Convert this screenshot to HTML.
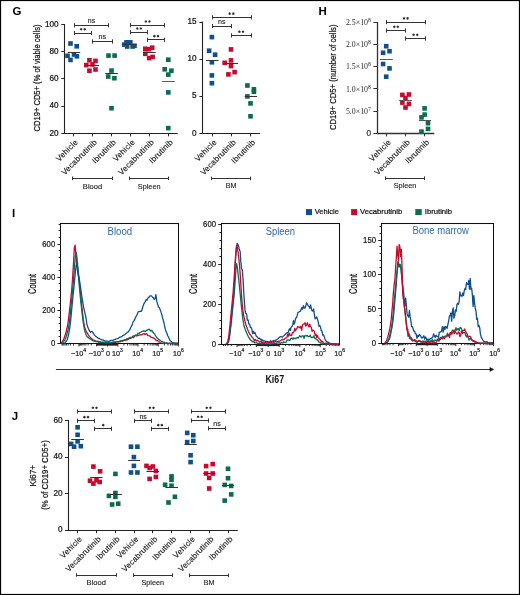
<!DOCTYPE html>
<html><head><meta charset="utf-8"><style>
html,body{margin:0;padding:0;background:#fff;}
body{width:520px;height:595px;overflow:hidden;font-family:"Liberation Sans",sans-serif;}
svg{display:block;will-change:transform;}
</style></head><body>
<svg width="520" height="595" viewBox="0 0 520 595">
<rect x="0" y="0" width="520" height="595" fill="#fff"/>
<text x="12.6" y="15.3" font-size="11.5" text-anchor="start" fill="#000" font-weight="bold" font-family="Liberation Sans" >G</text>
<text x="318.4" y="15.3" font-size="11.5" text-anchor="start" fill="#000" font-weight="bold" font-family="Liberation Sans" >H</text>
<text x="12" y="217.3" font-size="11.5" text-anchor="start" fill="#000" font-weight="bold" font-family="Liberation Sans" >I</text>
<text x="11.8" y="419.9" font-size="11.5" text-anchor="start" fill="#000" font-weight="bold" font-family="Liberation Sans" >J</text>
<line x1="64.5" y1="24" x2="64.5" y2="133.9" stroke="#222" stroke-width="1.1"/>
<line x1="64" y1="133.5" x2="177.7" y2="133.5" stroke="#222" stroke-width="1.1"/>
<line x1="61.3" y1="24.5" x2="64.5" y2="24.5" stroke="#222" stroke-width="1"/>
<text stroke="#111" stroke-width="0.22" x="58.6" y="26.5" font-size="8.2" text-anchor="end" fill="#111" font-weight="normal" font-family="Liberation Sans" >100</text>
<line x1="61.3" y1="51.5" x2="64.5" y2="51.5" stroke="#222" stroke-width="1"/>
<text stroke="#111" stroke-width="0.22" x="58.6" y="53.75" font-size="8.2" text-anchor="end" fill="#111" font-weight="normal" font-family="Liberation Sans" >80</text>
<line x1="61.3" y1="78.5" x2="64.5" y2="78.5" stroke="#222" stroke-width="1"/>
<text stroke="#111" stroke-width="0.22" x="58.6" y="81" font-size="8.2" text-anchor="end" fill="#111" font-weight="normal" font-family="Liberation Sans" >60</text>
<line x1="61.3" y1="106.5" x2="64.5" y2="106.5" stroke="#222" stroke-width="1"/>
<text stroke="#111" stroke-width="0.22" x="58.6" y="108.25" font-size="8.2" text-anchor="end" fill="#111" font-weight="normal" font-family="Liberation Sans" >40</text>
<line x1="61.3" y1="133.5" x2="64.5" y2="133.5" stroke="#222" stroke-width="1"/>
<text stroke="#111" stroke-width="0.22" x="58.6" y="135.5" font-size="8.2" text-anchor="end" fill="#111" font-weight="normal" font-family="Liberation Sans" >20</text>
<line x1="73.5" y1="133.4" x2="73.5" y2="136.4" stroke="#222" stroke-width="1"/>
<line x1="92.5" y1="133.4" x2="92.5" y2="136.4" stroke="#222" stroke-width="1"/>
<line x1="111.5" y1="133.4" x2="111.5" y2="136.4" stroke="#222" stroke-width="1"/>
<line x1="130.5" y1="133.4" x2="130.5" y2="136.4" stroke="#222" stroke-width="1"/>
<line x1="149.5" y1="133.4" x2="149.5" y2="136.4" stroke="#222" stroke-width="1"/>
<line x1="168.5" y1="133.4" x2="168.5" y2="136.4" stroke="#222" stroke-width="1"/>
<text stroke="#111" stroke-width="0.22" x="0" y="0" font-size="8.9" text-anchor="middle" fill="#111" font-weight="normal" font-family="Liberation Sans" textLength="107" lengthAdjust="spacingAndGlyphs" transform="translate(40.2 78) rotate(-90)">CD19+ CD5+ (% of viable cells)</text>
<rect x="68.2" y="41.2" width="4.6" height="4.6" fill="#0e4f8d"/>
<rect x="74.4" y="44" width="4.6" height="4.6" fill="#0e4f8d"/>
<rect x="65.2" y="53.5" width="4.6" height="4.6" fill="#0e4f8d"/>
<rect x="71.7" y="52.2" width="4.6" height="4.6" fill="#0e4f8d"/>
<rect x="74.6" y="54" width="4.6" height="4.6" fill="#0e4f8d"/>
<rect x="68.2" y="57.6" width="4.6" height="4.6" fill="#0e4f8d"/>
<rect x="87.1" y="58" width="4.6" height="4.6" fill="#c9082e"/>
<rect x="93.2" y="58.6" width="4.6" height="4.6" fill="#c9082e"/>
<rect x="84" y="62.8" width="4.6" height="4.6" fill="#c9082e"/>
<rect x="90.2" y="62.2" width="4.6" height="4.6" fill="#c9082e"/>
<rect x="87.1" y="68.4" width="4.6" height="4.6" fill="#c9082e"/>
<rect x="93.2" y="67.2" width="4.6" height="4.6" fill="#c9082e"/>
<rect x="106.2" y="53.3" width="4.6" height="4.6" fill="#0b6b51"/>
<rect x="112.3" y="53.3" width="4.6" height="4.6" fill="#0b6b51"/>
<rect x="109.2" y="68.3" width="4.6" height="4.6" fill="#0b6b51"/>
<rect x="105.9" y="74.2" width="4.6" height="4.6" fill="#0b6b51"/>
<rect x="112.1" y="75.9" width="4.6" height="4.6" fill="#0b6b51"/>
<rect x="109.2" y="105.9" width="4.6" height="4.6" fill="#0b6b51"/>
<rect x="124.2" y="40" width="4.6" height="4.6" fill="#0e4f8d"/>
<rect x="128" y="40" width="4.6" height="4.6" fill="#0e4f8d"/>
<rect x="121.9" y="42.3" width="4.6" height="4.6" fill="#0e4f8d"/>
<rect x="124.9" y="44.2" width="4.6" height="4.6" fill="#0e4f8d"/>
<rect x="130.3" y="44.2" width="4.6" height="4.6" fill="#0e4f8d"/>
<rect x="132.2" y="43.5" width="4.6" height="4.6" fill="#0e4f8d"/>
<rect x="149.9" y="45.4" width="4.6" height="4.6" fill="#c9082e"/>
<rect x="146.5" y="46.9" width="4.6" height="4.6" fill="#c9082e"/>
<rect x="143" y="46.5" width="4.6" height="4.6" fill="#c9082e"/>
<rect x="143" y="51.5" width="4.6" height="4.6" fill="#c9082e"/>
<rect x="150.3" y="54.6" width="4.6" height="4.6" fill="#c9082e"/>
<rect x="146.9" y="55.8" width="4.6" height="4.6" fill="#c9082e"/>
<rect x="166" y="57.4" width="4.6" height="4.6" fill="#0b6b51"/>
<rect x="162.4" y="67" width="4.6" height="4.6" fill="#0b6b51"/>
<rect x="169.1" y="68.4" width="4.6" height="4.6" fill="#0b6b51"/>
<rect x="166" y="72.3" width="4.6" height="4.6" fill="#0b6b51"/>
<rect x="166" y="90.1" width="4.6" height="4.6" fill="#0b6b51"/>
<rect x="166" y="125.8" width="4.6" height="4.6" fill="#0b6b51"/>
<line x1="67.8" y1="52.5" x2="80.2" y2="52.5" stroke="#333" stroke-width="1"/>
<line x1="86.3" y1="65.5" x2="99" y2="65.5" stroke="#333" stroke-width="1"/>
<line x1="105.3" y1="73.5" x2="117.9" y2="73.5" stroke="#333" stroke-width="1"/>
<line x1="123.8" y1="44.5" x2="136.8" y2="44.5" stroke="#333" stroke-width="1"/>
<line x1="143" y1="52.5" x2="155.7" y2="52.5" stroke="#333" stroke-width="1"/>
<line x1="162.1" y1="81.5" x2="174.7" y2="81.5" stroke="#555" stroke-width="1"/>
<line x1="74.4" y1="25.5" x2="108.5" y2="25.5" stroke="#333" stroke-width="1"/>
<line x1="74.5" y1="23.2" x2="74.5" y2="27.4" stroke="#333" stroke-width="1"/>
<line x1="108.5" y1="23.2" x2="108.5" y2="27.4" stroke="#333" stroke-width="1"/>
<text stroke="#222" stroke-width="0.12" x="91.45" y="23.1" font-size="7" text-anchor="middle" fill="#222" font-weight="normal" font-family="Liberation Sans" class="t2">ns</text>
<line x1="74.4" y1="33.5" x2="91.5" y2="33.5" stroke="#333" stroke-width="1"/>
<line x1="74.5" y1="30.9" x2="74.5" y2="35.1" stroke="#333" stroke-width="1"/>
<line x1="91.5" y1="30.9" x2="91.5" y2="35.1" stroke="#333" stroke-width="1"/>
<polygon points="81.15,27.7 81.62,28.48 82.54,28.5 82.1,29.3 82.54,30.1 81.62,30.12 81.15,30.9 80.68,30.12 79.76,30.1 80.2,29.3 79.76,28.5 80.68,28.48" fill="#2a2a2a"/>
<polygon points="84.75,27.7 85.22,28.48 86.14,28.5 85.7,29.3 86.14,30.1 85.22,30.12 84.75,30.9 84.28,30.12 83.36,30.1 83.8,29.3 83.36,28.5 84.28,28.48" fill="#2a2a2a"/>
<line x1="92.4" y1="41.5" x2="112" y2="41.5" stroke="#333" stroke-width="1"/>
<line x1="92.5" y1="39.4" x2="92.5" y2="43.6" stroke="#333" stroke-width="1"/>
<line x1="112.5" y1="39.4" x2="112.5" y2="43.6" stroke="#333" stroke-width="1"/>
<text stroke="#222" stroke-width="0.12" x="102.2" y="39.3" font-size="7" text-anchor="middle" fill="#222" font-weight="normal" font-family="Liberation Sans" class="t2">ns</text>
<line x1="130.5" y1="25.5" x2="164.8" y2="25.5" stroke="#333" stroke-width="1"/>
<line x1="130.5" y1="23.1" x2="130.5" y2="27.3" stroke="#333" stroke-width="1"/>
<line x1="164.5" y1="23.1" x2="164.5" y2="27.3" stroke="#333" stroke-width="1"/>
<polygon points="145.85,19.9 146.32,20.68 147.24,20.7 146.8,21.5 147.24,22.3 146.32,22.32 145.85,23.1 145.38,22.32 144.46,22.3 144.9,21.5 144.46,20.7 145.38,20.68" fill="#2a2a2a"/>
<polygon points="149.45,19.9 149.92,20.68 150.84,20.7 150.4,21.5 150.84,22.3 149.92,22.32 149.45,23.1 148.97,22.32 148.06,22.3 148.5,21.5 148.06,20.7 148.97,20.68" fill="#2a2a2a"/>
<line x1="130.5" y1="32.5" x2="147.6" y2="32.5" stroke="#333" stroke-width="1"/>
<line x1="130.5" y1="30.1" x2="130.5" y2="34.3" stroke="#333" stroke-width="1"/>
<line x1="147.5" y1="30.1" x2="147.5" y2="34.3" stroke="#333" stroke-width="1"/>
<polygon points="137.25,26.9 137.72,27.68 138.64,27.7 138.2,28.5 138.64,29.3 137.72,29.32 137.25,30.1 136.78,29.32 135.86,29.3 136.3,28.5 135.86,27.7 136.78,27.68" fill="#2a2a2a"/>
<polygon points="140.85,26.9 141.32,27.68 142.24,27.7 141.8,28.5 142.24,29.3 141.32,29.32 140.85,30.1 140.38,29.32 139.46,29.3 139.9,28.5 139.46,27.7 140.38,27.68" fill="#2a2a2a"/>
<line x1="147.6" y1="39.5" x2="164.8" y2="39.5" stroke="#333" stroke-width="1"/>
<line x1="147.5" y1="37.7" x2="147.5" y2="41.9" stroke="#333" stroke-width="1"/>
<line x1="164.5" y1="37.7" x2="164.5" y2="41.9" stroke="#333" stroke-width="1"/>
<polygon points="154.4,34.5 154.87,35.28 155.79,35.3 155.35,36.1 155.79,36.9 154.87,36.92 154.4,37.7 153.92,36.92 153.01,36.9 153.45,36.1 153.01,35.3 153.92,35.28" fill="#2a2a2a"/>
<polygon points="158,34.5 158.47,35.28 159.39,35.3 158.95,36.1 159.39,36.9 158.47,36.92 158,37.7 157.52,36.92 156.61,36.9 157.05,36.1 156.61,35.3 157.52,35.28" fill="#2a2a2a"/>
<text stroke="#111" stroke-width="0.12" class="t2" x="0" y="0" font-size="8" text-anchor="end" fill="#111" font-family="Liberation Sans" textLength="27.09" lengthAdjust="spacing" transform="translate(78.3 142.8) rotate(-45)">Vehicle</text>
<text stroke="#111" stroke-width="0.12" class="t2" x="0" y="0" font-size="8" text-anchor="end" fill="#111" font-family="Liberation Sans" textLength="46.23" lengthAdjust="spacing" transform="translate(97.4 142.8) rotate(-45)">Vecabrutinib</text>
<text stroke="#111" stroke-width="0.12" class="t2" x="0" y="0" font-size="8" text-anchor="end" fill="#111" font-family="Liberation Sans" textLength="29.88" lengthAdjust="spacing" transform="translate(116.3 142.8) rotate(-45)">Ibrutinib</text>
<text stroke="#111" stroke-width="0.12" class="t2" x="0" y="0" font-size="8" text-anchor="end" fill="#111" font-family="Liberation Sans" textLength="27.09" lengthAdjust="spacing" transform="translate(135.3 142.8) rotate(-45)">Vehicle</text>
<text stroke="#111" stroke-width="0.12" class="t2" x="0" y="0" font-size="8" text-anchor="end" fill="#111" font-family="Liberation Sans" textLength="46.23" lengthAdjust="spacing" transform="translate(154.3 142.8) rotate(-45)">Vecabrutinib</text>
<text stroke="#111" stroke-width="0.12" class="t2" x="0" y="0" font-size="8" text-anchor="end" fill="#111" font-family="Liberation Sans" textLength="29.88" lengthAdjust="spacing" transform="translate(173.3 142.8) rotate(-45)">Ibrutinib</text>
<line x1="72.8" y1="178.5" x2="112.3" y2="178.5" stroke="#333" stroke-width="1"/>
<line x1="72.5" y1="176.5" x2="72.5" y2="180.1" stroke="#333" stroke-width="1"/>
<line x1="112.5" y1="176.5" x2="112.5" y2="180.1" stroke="#333" stroke-width="1"/>
<text stroke="#1a1a1a" stroke-width="0.12" x="92.55" y="188.5" font-size="7.7" text-anchor="middle" fill="#1a1a1a" font-weight="normal" font-family="Liberation Sans" textLength="19.4" lengthAdjust="spacingAndGlyphs" class="t2">Blood</text>
<line x1="129.5" y1="178.5" x2="168.8" y2="178.5" stroke="#333" stroke-width="1"/>
<line x1="129.5" y1="176.5" x2="129.5" y2="180.1" stroke="#333" stroke-width="1"/>
<line x1="168.5" y1="176.5" x2="168.5" y2="180.1" stroke="#333" stroke-width="1"/>
<text stroke="#1a1a1a" stroke-width="0.12" x="149.15" y="188.5" font-size="7.7" text-anchor="middle" fill="#1a1a1a" font-weight="normal" font-family="Liberation Sans" textLength="22.7" lengthAdjust="spacingAndGlyphs" class="t2">Spleen</text>
<line x1="202.5" y1="21.6" x2="202.5" y2="133.9" stroke="#222" stroke-width="1.1"/>
<line x1="202.1" y1="133.5" x2="259.9" y2="133.5" stroke="#222" stroke-width="1.1"/>
<line x1="199.4" y1="22.5" x2="202.6" y2="22.5" stroke="#222" stroke-width="1"/>
<text stroke="#111" stroke-width="0.22" x="196.6" y="24.2" font-size="8.2" text-anchor="end" fill="#111" font-weight="normal" font-family="Liberation Sans" >15</text>
<line x1="199.4" y1="59.5" x2="202.6" y2="59.5" stroke="#222" stroke-width="1"/>
<text stroke="#111" stroke-width="0.22" x="196.6" y="61.3" font-size="8.2" text-anchor="end" fill="#111" font-weight="normal" font-family="Liberation Sans" >10</text>
<line x1="199.4" y1="96.5" x2="202.6" y2="96.5" stroke="#222" stroke-width="1"/>
<text stroke="#111" stroke-width="0.22" x="196.6" y="98.4" font-size="8.2" text-anchor="end" fill="#111" font-weight="normal" font-family="Liberation Sans" >5</text>
<line x1="199.4" y1="133.5" x2="202.6" y2="133.5" stroke="#222" stroke-width="1"/>
<text stroke="#111" stroke-width="0.22" x="196.6" y="135.5" font-size="8.2" text-anchor="end" fill="#111" font-weight="normal" font-family="Liberation Sans" >0</text>
<line x1="212.5" y1="133.4" x2="212.5" y2="136.4" stroke="#222" stroke-width="1"/>
<line x1="231.5" y1="133.4" x2="231.5" y2="136.4" stroke="#222" stroke-width="1"/>
<line x1="250.5" y1="133.4" x2="250.5" y2="136.4" stroke="#222" stroke-width="1"/>
<rect x="209.6" y="34.8" width="4.6" height="4.6" fill="#0e4f8d"/>
<rect x="206.8" y="48.4" width="4.6" height="4.6" fill="#0e4f8d"/>
<rect x="212.8" y="52.4" width="4.6" height="4.6" fill="#0e4f8d"/>
<rect x="209.6" y="60" width="4.6" height="4.6" fill="#0e4f8d"/>
<rect x="209.6" y="73.1" width="4.6" height="4.6" fill="#0e4f8d"/>
<rect x="209.6" y="80.9" width="4.6" height="4.6" fill="#0e4f8d"/>
<rect x="228.7" y="47.1" width="4.6" height="4.6" fill="#c9082e"/>
<rect x="222.4" y="60.5" width="4.6" height="4.6" fill="#c9082e"/>
<rect x="228.7" y="58.1" width="4.6" height="4.6" fill="#c9082e"/>
<rect x="228.7" y="63.8" width="4.6" height="4.6" fill="#c9082e"/>
<rect x="232.3" y="69.8" width="4.6" height="4.6" fill="#c9082e"/>
<rect x="226.1" y="72.1" width="4.6" height="4.6" fill="#c9082e"/>
<rect x="245.1" y="83.2" width="4.6" height="4.6" fill="#0b6b51"/>
<rect x="251.6" y="87" width="4.6" height="4.6" fill="#0b6b51"/>
<rect x="251.6" y="89.5" width="4.6" height="4.6" fill="#0b6b51"/>
<rect x="245.1" y="94.1" width="4.6" height="4.6" fill="#0b6b51"/>
<rect x="248.2" y="101.1" width="4.6" height="4.6" fill="#0b6b51"/>
<rect x="248.2" y="114" width="4.6" height="4.6" fill="#0b6b51"/>
<line x1="206" y1="60.5" x2="218.6" y2="60.5" stroke="#333" stroke-width="1"/>
<line x1="224.7" y1="63.5" x2="238.1" y2="63.5" stroke="#333" stroke-width="1"/>
<line x1="244.7" y1="96.5" x2="257" y2="96.5" stroke="#333" stroke-width="1"/>
<line x1="212" y1="17.5" x2="251" y2="17.5" stroke="#333" stroke-width="1"/>
<line x1="212.5" y1="15.2" x2="212.5" y2="19.4" stroke="#333" stroke-width="1"/>
<line x1="251.5" y1="15.2" x2="251.5" y2="19.4" stroke="#333" stroke-width="1"/>
<polygon points="229.7,12 230.17,12.78 231.09,12.8 230.65,13.6 231.09,14.4 230.17,14.42 229.7,15.2 229.22,14.42 228.31,14.4 228.75,13.6 228.31,12.8 229.22,12.78" fill="#2a2a2a"/>
<polygon points="233.3,12 233.77,12.78 234.69,12.8 234.25,13.6 234.69,14.4 233.77,14.42 233.3,15.2 232.82,14.42 231.91,14.4 232.35,13.6 231.91,12.8 232.82,12.78" fill="#2a2a2a"/>
<line x1="212" y1="26.5" x2="231.4" y2="26.5" stroke="#333" stroke-width="1"/>
<line x1="212.5" y1="24" x2="212.5" y2="28.2" stroke="#333" stroke-width="1"/>
<line x1="231.5" y1="24" x2="231.5" y2="28.2" stroke="#333" stroke-width="1"/>
<text stroke="#222" stroke-width="0.12" x="221.7" y="23.9" font-size="7" text-anchor="middle" fill="#222" font-weight="normal" font-family="Liberation Sans" class="t2">ns</text>
<line x1="231.4" y1="35.5" x2="251" y2="35.5" stroke="#333" stroke-width="1"/>
<line x1="231.5" y1="33.3" x2="231.5" y2="37.5" stroke="#333" stroke-width="1"/>
<line x1="251.5" y1="33.3" x2="251.5" y2="37.5" stroke="#333" stroke-width="1"/>
<polygon points="239.4,30.1 239.87,30.88 240.79,30.9 240.35,31.7 240.79,32.5 239.87,32.52 239.4,33.3 238.92,32.52 238.01,32.5 238.45,31.7 238.01,30.9 238.92,30.88" fill="#2a2a2a"/>
<polygon points="243,30.1 243.47,30.88 244.39,30.9 243.95,31.7 244.39,32.5 243.47,32.52 243,33.3 242.52,32.52 241.61,32.5 242.05,31.7 241.61,30.9 242.52,30.88" fill="#2a2a2a"/>
<text stroke="#111" stroke-width="0.12" class="t2" x="0" y="0" font-size="8" text-anchor="end" fill="#111" font-family="Liberation Sans" textLength="27.09" lengthAdjust="spacing" transform="translate(217.1 142.8) rotate(-45)">Vehicle</text>
<text stroke="#111" stroke-width="0.12" class="t2" x="0" y="0" font-size="8" text-anchor="end" fill="#111" font-family="Liberation Sans" textLength="46.23" lengthAdjust="spacing" transform="translate(236.4 142.8) rotate(-45)">Vecabrutinib</text>
<text stroke="#111" stroke-width="0.12" class="t2" x="0" y="0" font-size="8" text-anchor="end" fill="#111" font-family="Liberation Sans" textLength="29.88" lengthAdjust="spacing" transform="translate(255.6 142.8) rotate(-45)">Ibrutinib</text>
<line x1="211.4" y1="178.5" x2="250.6" y2="178.5" stroke="#333" stroke-width="1"/>
<line x1="211.5" y1="176.6" x2="211.5" y2="180.2" stroke="#333" stroke-width="1"/>
<line x1="250.5" y1="176.6" x2="250.5" y2="180.2" stroke="#333" stroke-width="1"/>
<text stroke="#1a1a1a" stroke-width="0.12" x="231" y="188.3" font-size="7.7" text-anchor="middle" fill="#1a1a1a" font-weight="normal" font-family="Liberation Sans" textLength="10.7" lengthAdjust="spacingAndGlyphs" class="t2">BM</text>
<line x1="377.5" y1="22" x2="377.5" y2="133.9" stroke="#333" stroke-width="1.3"/>
<line x1="376.5" y1="133.5" x2="434.3" y2="133.5" stroke="#333" stroke-width="1.3"/>
<line x1="373.4" y1="22.5" x2="377" y2="22.5" stroke="#333" stroke-width="1"/>
<text class="t" x="345.9" y="25.2" font-size="7.6" fill="#2a2a2a" font-family="Liberation Serif" textLength="25" lengthAdjust="spacingAndGlyphs">2.5&#215;10<tspan font-size="5.6" dy="-3">8</tspan></text>
<line x1="373.4" y1="44.5" x2="377" y2="44.5" stroke="#333" stroke-width="1"/>
<text class="t" x="345.9" y="47.32" font-size="7.6" fill="#2a2a2a" font-family="Liberation Serif" textLength="25" lengthAdjust="spacingAndGlyphs">2.0&#215;10<tspan font-size="5.6" dy="-3">8</tspan></text>
<line x1="373.4" y1="66.5" x2="377" y2="66.5" stroke="#333" stroke-width="1"/>
<text class="t" x="345.9" y="69.44" font-size="7.6" fill="#2a2a2a" font-family="Liberation Serif" textLength="25" lengthAdjust="spacingAndGlyphs">1.5&#215;10<tspan font-size="5.6" dy="-3">8</tspan></text>
<line x1="373.4" y1="88.5" x2="377" y2="88.5" stroke="#333" stroke-width="1"/>
<text class="t" x="345.9" y="91.56" font-size="7.6" fill="#2a2a2a" font-family="Liberation Serif" textLength="25" lengthAdjust="spacingAndGlyphs">1.0&#215;10<tspan font-size="5.6" dy="-3">8</tspan></text>
<line x1="373.4" y1="111.5" x2="377" y2="111.5" stroke="#333" stroke-width="1"/>
<text class="t" x="345.9" y="113.68" font-size="7.6" fill="#2a2a2a" font-family="Liberation Serif" textLength="25" lengthAdjust="spacingAndGlyphs">5.0&#215;10<tspan font-size="5.6" dy="-3">7</tspan></text>
<line x1="373.4" y1="133.5" x2="377" y2="133.5" stroke="#333" stroke-width="1"/>
<text stroke="#333" stroke-width="0.22" x="371" y="136.2" font-size="8.2" text-anchor="end" fill="#333" font-weight="normal" font-family="Liberation Sans" >0</text>
<line x1="386.5" y1="133.4" x2="386.5" y2="136.4" stroke="#333" stroke-width="1"/>
<line x1="405.5" y1="133.4" x2="405.5" y2="136.4" stroke="#333" stroke-width="1"/>
<line x1="424.5" y1="133.4" x2="424.5" y2="136.4" stroke="#333" stroke-width="1"/>
<text stroke="#111" stroke-width="0.22" x="0" y="0" font-size="8.9" text-anchor="middle" fill="#111" font-weight="normal" font-family="Liberation Sans" textLength="105.6" lengthAdjust="spacingAndGlyphs" transform="translate(336.2 77.3) rotate(-90)">CD19+ CD5+ (number of cells)</text>
<rect x="383.9" y="43.9" width="4.6" height="4.6" fill="#0e4f8d"/>
<rect x="387.2" y="48.9" width="4.6" height="4.6" fill="#0e4f8d"/>
<rect x="380.8" y="50.5" width="4.6" height="4.6" fill="#0e4f8d"/>
<rect x="380.8" y="61.7" width="4.6" height="4.6" fill="#0e4f8d"/>
<rect x="387.2" y="66.1" width="4.6" height="4.6" fill="#0e4f8d"/>
<rect x="383.9" y="74.4" width="4.6" height="4.6" fill="#0e4f8d"/>
<rect x="400.1" y="92.6" width="4.6" height="4.6" fill="#c9082e"/>
<rect x="406.6" y="92.2" width="4.6" height="4.6" fill="#c9082e"/>
<rect x="403.2" y="95.7" width="4.6" height="4.6" fill="#c9082e"/>
<rect x="400.1" y="100.3" width="4.6" height="4.6" fill="#c9082e"/>
<rect x="406.6" y="101.6" width="4.6" height="4.6" fill="#c9082e"/>
<rect x="403.2" y="105.2" width="4.6" height="4.6" fill="#c9082e"/>
<rect x="422.3" y="106.1" width="4.6" height="4.6" fill="#0b6b51"/>
<rect x="422.3" y="112.3" width="4.6" height="4.6" fill="#0b6b51"/>
<rect x="419.2" y="115.1" width="4.6" height="4.6" fill="#0b6b51"/>
<rect x="425.7" y="120.9" width="4.6" height="4.6" fill="#0b6b51"/>
<rect x="425.7" y="126.6" width="4.6" height="4.6" fill="#0b6b51"/>
<rect x="419.2" y="129.3" width="4.6" height="4.6" fill="#0b6b51"/>
<line x1="379.9" y1="59.5" x2="392.8" y2="59.5" stroke="#555" stroke-width="1"/>
<line x1="399.2" y1="100.5" x2="411.8" y2="100.5" stroke="#555" stroke-width="1"/>
<line x1="419" y1="120.5" x2="431.1" y2="120.5" stroke="#555" stroke-width="1"/>
<line x1="386.4" y1="22.5" x2="425.2" y2="22.5" stroke="#333" stroke-width="1"/>
<line x1="386.5" y1="20" x2="386.5" y2="24.2" stroke="#333" stroke-width="1"/>
<line x1="425.5" y1="20" x2="425.5" y2="24.2" stroke="#333" stroke-width="1"/>
<polygon points="404,16.8 404.47,17.58 405.39,17.6 404.95,18.4 405.39,19.2 404.47,19.22 404,20 403.52,19.22 402.61,19.2 403.05,18.4 402.61,17.6 403.52,17.58" fill="#2a2a2a"/>
<polygon points="407.6,16.8 408.07,17.58 408.99,17.6 408.55,18.4 408.99,19.2 408.07,19.22 407.6,20 407.12,19.22 406.21,19.2 406.65,18.4 406.21,17.6 407.12,17.58" fill="#2a2a2a"/>
<line x1="386.4" y1="30.5" x2="405.7" y2="30.5" stroke="#333" stroke-width="1"/>
<line x1="386.5" y1="28.4" x2="386.5" y2="32.6" stroke="#333" stroke-width="1"/>
<line x1="405.5" y1="28.4" x2="405.5" y2="32.6" stroke="#333" stroke-width="1"/>
<polygon points="394.25,25.2 394.72,25.98 395.64,26 395.2,26.8 395.64,27.6 394.72,27.62 394.25,28.4 393.77,27.62 392.86,27.6 393.3,26.8 392.86,26 393.77,25.98" fill="#2a2a2a"/>
<polygon points="397.85,25.2 398.32,25.98 399.24,26 398.8,26.8 399.24,27.6 398.32,27.62 397.85,28.4 397.37,27.62 396.46,27.6 396.9,26.8 396.46,26 397.37,25.98" fill="#2a2a2a"/>
<line x1="405.7" y1="38.5" x2="425.2" y2="38.5" stroke="#333" stroke-width="1"/>
<line x1="405.5" y1="36.4" x2="405.5" y2="40.6" stroke="#333" stroke-width="1"/>
<line x1="425.5" y1="36.4" x2="425.5" y2="40.6" stroke="#333" stroke-width="1"/>
<polygon points="413.65,33.2 414.12,33.98 415.04,34 414.6,34.8 415.04,35.6 414.12,35.62 413.65,36.4 413.17,35.62 412.26,35.6 412.7,34.8 412.26,34 413.17,33.98" fill="#2a2a2a"/>
<polygon points="417.25,33.2 417.73,33.98 418.64,34 418.2,34.8 418.64,35.6 417.73,35.62 417.25,36.4 416.77,35.62 415.86,35.6 416.3,34.8 415.86,34 416.77,33.98" fill="#2a2a2a"/>
<text stroke="#111" stroke-width="0.12" class="t2" x="0" y="0" font-size="8" text-anchor="end" fill="#111" font-family="Liberation Sans" textLength="27.09" lengthAdjust="spacing" transform="translate(391.5 142.8) rotate(-45)">Vehicle</text>
<text stroke="#111" stroke-width="0.12" class="t2" x="0" y="0" font-size="8" text-anchor="end" fill="#111" font-family="Liberation Sans" textLength="46.23" lengthAdjust="spacing" transform="translate(410.5 142.8) rotate(-45)">Vecabrutinib</text>
<text stroke="#111" stroke-width="0.12" class="t2" x="0" y="0" font-size="8" text-anchor="end" fill="#111" font-family="Liberation Sans" textLength="29.88" lengthAdjust="spacing" transform="translate(429.6 142.8) rotate(-45)">Ibrutinib</text>
<line x1="385.4" y1="178.5" x2="424.6" y2="178.5" stroke="#333" stroke-width="1"/>
<line x1="385.5" y1="176.4" x2="385.5" y2="180" stroke="#333" stroke-width="1"/>
<line x1="424.5" y1="176.4" x2="424.5" y2="180" stroke="#333" stroke-width="1"/>
<text stroke="#1a1a1a" stroke-width="0.12" x="405" y="188.3" font-size="7.7" text-anchor="middle" fill="#1a1a1a" font-weight="normal" font-family="Liberation Sans" textLength="22.7" lengthAdjust="spacingAndGlyphs" class="t2">Spleen</text>
<line x1="68.5" y1="420" x2="68.5" y2="530.7" stroke="#222" stroke-width="1.1"/>
<line x1="67.8" y1="530.5" x2="237.7" y2="530.5" stroke="#222" stroke-width="1.1"/>
<line x1="65" y1="420.5" x2="68.3" y2="420.5" stroke="#222" stroke-width="1"/>
<text stroke="#111" stroke-width="0.22" x="62.6" y="422.5" font-size="8.2" text-anchor="end" fill="#111" font-weight="normal" font-family="Liberation Sans" >60</text>
<line x1="65" y1="457.5" x2="68.3" y2="457.5" stroke="#222" stroke-width="1"/>
<text stroke="#111" stroke-width="0.22" x="62.6" y="459.1" font-size="8.2" text-anchor="end" fill="#111" font-weight="normal" font-family="Liberation Sans" >40</text>
<line x1="65" y1="493.5" x2="68.3" y2="493.5" stroke="#222" stroke-width="1"/>
<text stroke="#111" stroke-width="0.22" x="62.6" y="495.7" font-size="8.2" text-anchor="end" fill="#111" font-weight="normal" font-family="Liberation Sans" >20</text>
<line x1="65" y1="530.5" x2="68.3" y2="530.5" stroke="#222" stroke-width="1"/>
<text stroke="#111" stroke-width="0.22" x="62.6" y="532.3" font-size="8.2" text-anchor="end" fill="#111" font-weight="normal" font-family="Liberation Sans" >0</text>
<line x1="77.5" y1="530.2" x2="77.5" y2="533.2" stroke="#222" stroke-width="1"/>
<line x1="96.5" y1="530.2" x2="96.5" y2="533.2" stroke="#222" stroke-width="1"/>
<line x1="115.5" y1="530.2" x2="115.5" y2="533.2" stroke="#222" stroke-width="1"/>
<line x1="134.5" y1="530.2" x2="134.5" y2="533.2" stroke="#222" stroke-width="1"/>
<line x1="152.5" y1="530.2" x2="152.5" y2="533.2" stroke="#222" stroke-width="1"/>
<line x1="171.5" y1="530.2" x2="171.5" y2="533.2" stroke="#222" stroke-width="1"/>
<line x1="190.5" y1="530.2" x2="190.5" y2="533.2" stroke="#222" stroke-width="1"/>
<line x1="209.5" y1="530.2" x2="209.5" y2="533.2" stroke="#222" stroke-width="1"/>
<line x1="228.5" y1="530.2" x2="228.5" y2="533.2" stroke="#222" stroke-width="1"/>
<text stroke="#111" stroke-width="0.22" x="0" y="0" font-size="8.9" text-anchor="middle" fill="#111" font-weight="normal" font-family="Liberation Sans" textLength="21.7" lengthAdjust="spacingAndGlyphs" transform="translate(36.3 475.6) rotate(-90)">Ki67+</text>
<text stroke="#111" stroke-width="0.22" x="0" y="0" font-size="8.9" text-anchor="middle" fill="#111" font-weight="normal" font-family="Liberation Sans" textLength="69.5" lengthAdjust="spacingAndGlyphs" transform="translate(47.9 475) rotate(-90)">(% of CD19+ CD5+)</text>
<rect x="75.3" y="425" width="4.6" height="4.6" fill="#0e4f8d"/>
<rect x="75.3" y="432.5" width="4.6" height="4.6" fill="#0e4f8d"/>
<rect x="75.3" y="439.1" width="4.6" height="4.6" fill="#0e4f8d"/>
<rect x="68.8" y="441.6" width="4.6" height="4.6" fill="#0e4f8d"/>
<rect x="71.8" y="444.4" width="4.6" height="4.6" fill="#0e4f8d"/>
<rect x="78.5" y="443.9" width="4.6" height="4.6" fill="#0e4f8d"/>
<rect x="91.1" y="464.3" width="4.6" height="4.6" fill="#c9082e"/>
<rect x="97.8" y="469" width="4.6" height="4.6" fill="#c9082e"/>
<rect x="87.7" y="478.4" width="4.6" height="4.6" fill="#c9082e"/>
<rect x="94.2" y="477.9" width="4.6" height="4.6" fill="#c9082e"/>
<rect x="91.1" y="481.3" width="4.6" height="4.6" fill="#c9082e"/>
<rect x="97.4" y="479.7" width="4.6" height="4.6" fill="#c9082e"/>
<rect x="113.1" y="471.6" width="4.6" height="4.6" fill="#0b6b51"/>
<rect x="113.1" y="490.7" width="4.6" height="4.6" fill="#0b6b51"/>
<rect x="113.1" y="494.5" width="4.6" height="4.6" fill="#0b6b51"/>
<rect x="106.6" y="493.6" width="4.6" height="4.6" fill="#0b6b51"/>
<rect x="109.8" y="502.2" width="4.6" height="4.6" fill="#0b6b51"/>
<rect x="115.9" y="501.4" width="4.6" height="4.6" fill="#0b6b51"/>
<rect x="128.7" y="444.4" width="4.6" height="4.6" fill="#0e4f8d"/>
<rect x="135.1" y="444.4" width="4.6" height="4.6" fill="#0e4f8d"/>
<rect x="131.6" y="454.8" width="4.6" height="4.6" fill="#0e4f8d"/>
<rect x="131.6" y="463.6" width="4.6" height="4.6" fill="#0e4f8d"/>
<rect x="128.7" y="470.2" width="4.6" height="4.6" fill="#0e4f8d"/>
<rect x="135.1" y="470.2" width="4.6" height="4.6" fill="#0e4f8d"/>
<rect x="144.2" y="463.6" width="4.6" height="4.6" fill="#c9082e"/>
<rect x="147.3" y="465.7" width="4.6" height="4.6" fill="#c9082e"/>
<rect x="150.5" y="464.2" width="4.6" height="4.6" fill="#c9082e"/>
<rect x="153.6" y="468.6" width="4.6" height="4.6" fill="#c9082e"/>
<rect x="153.6" y="474.6" width="4.6" height="4.6" fill="#c9082e"/>
<rect x="147.3" y="476.6" width="4.6" height="4.6" fill="#c9082e"/>
<rect x="169.2" y="474.1" width="4.6" height="4.6" fill="#0b6b51"/>
<rect x="169.2" y="477.5" width="4.6" height="4.6" fill="#0b6b51"/>
<rect x="162.8" y="482.5" width="4.6" height="4.6" fill="#0b6b51"/>
<rect x="169.2" y="483.4" width="4.6" height="4.6" fill="#0b6b51"/>
<rect x="172.6" y="494.5" width="4.6" height="4.6" fill="#0b6b51"/>
<rect x="166.2" y="500.2" width="4.6" height="4.6" fill="#0b6b51"/>
<rect x="184.9" y="430.6" width="4.6" height="4.6" fill="#0e4f8d"/>
<rect x="191" y="432.9" width="4.6" height="4.6" fill="#0e4f8d"/>
<rect x="191" y="438.7" width="4.6" height="4.6" fill="#0e4f8d"/>
<rect x="184.9" y="439.8" width="4.6" height="4.6" fill="#0e4f8d"/>
<rect x="188.3" y="453" width="4.6" height="4.6" fill="#0e4f8d"/>
<rect x="188.3" y="459.8" width="4.6" height="4.6" fill="#0e4f8d"/>
<rect x="203.8" y="463.8" width="4.6" height="4.6" fill="#c9082e"/>
<rect x="210.4" y="461.8" width="4.6" height="4.6" fill="#c9082e"/>
<rect x="203.8" y="471.2" width="4.6" height="4.6" fill="#c9082e"/>
<rect x="210.4" y="471.2" width="4.6" height="4.6" fill="#c9082e"/>
<rect x="206.9" y="475.6" width="4.6" height="4.6" fill="#c9082e"/>
<rect x="206.9" y="486.2" width="4.6" height="4.6" fill="#c9082e"/>
<rect x="225.7" y="466.5" width="4.6" height="4.6" fill="#0b6b51"/>
<rect x="225.7" y="475.9" width="4.6" height="4.6" fill="#0b6b51"/>
<rect x="222.4" y="482.6" width="4.6" height="4.6" fill="#0b6b51"/>
<rect x="228.9" y="483.6" width="4.6" height="4.6" fill="#0b6b51"/>
<rect x="228.9" y="492.1" width="4.6" height="4.6" fill="#0b6b51"/>
<rect x="222.4" y="498.3" width="4.6" height="4.6" fill="#0b6b51"/>
<line x1="71.3" y1="439.5" x2="83.9" y2="439.5" stroke="#333" stroke-width="1"/>
<line x1="90.2" y1="477.5" x2="102.6" y2="477.5" stroke="#333" stroke-width="1"/>
<line x1="108.9" y1="494.5" x2="121.9" y2="494.5" stroke="#333" stroke-width="1"/>
<line x1="128.2" y1="460.5" x2="140.2" y2="460.5" stroke="#333" stroke-width="1"/>
<line x1="146.5" y1="471.5" x2="159.1" y2="471.5" stroke="#333" stroke-width="1"/>
<line x1="165.4" y1="487.5" x2="178" y2="487.5" stroke="#333" stroke-width="1"/>
<line x1="184.4" y1="444.5" x2="196.7" y2="444.5" stroke="#333" stroke-width="1"/>
<line x1="203.3" y1="473.5" x2="215.5" y2="473.5" stroke="#333" stroke-width="1"/>
<line x1="222.1" y1="485.5" x2="234.1" y2="485.5" stroke="#333" stroke-width="1"/>
<line x1="77.7" y1="411.5" x2="111.7" y2="411.5" stroke="#333" stroke-width="1"/>
<line x1="77.5" y1="409.4" x2="77.5" y2="413.6" stroke="#333" stroke-width="1"/>
<line x1="111.5" y1="409.4" x2="111.5" y2="413.6" stroke="#333" stroke-width="1"/>
<polygon points="92.9,406.2 93.38,406.98 94.29,407 93.85,407.8 94.29,408.6 93.38,408.62 92.9,409.4 92.43,408.62 91.51,408.6 91.95,407.8 91.51,407 92.43,406.98" fill="#2a2a2a"/>
<polygon points="96.5,406.2 96.97,406.98 97.89,407 97.45,407.8 97.89,408.6 96.97,408.62 96.5,409.4 96.03,408.62 95.11,408.6 95.55,407.8 95.11,407 96.03,406.98" fill="#2a2a2a"/>
<line x1="77.7" y1="420.5" x2="94.7" y2="420.5" stroke="#333" stroke-width="1"/>
<line x1="77.5" y1="418.7" x2="77.5" y2="422.9" stroke="#333" stroke-width="1"/>
<line x1="94.5" y1="418.7" x2="94.5" y2="422.9" stroke="#333" stroke-width="1"/>
<polygon points="84.4,415.5 84.88,416.28 85.79,416.3 85.35,417.1 85.79,417.9 84.88,417.92 84.4,418.7 83.93,417.92 83.01,417.9 83.45,417.1 83.01,416.3 83.93,416.28" fill="#2a2a2a"/>
<polygon points="88,415.5 88.47,416.28 89.39,416.3 88.95,417.1 89.39,417.9 88.47,417.92 88,418.7 87.53,417.92 86.61,417.9 87.05,417.1 86.61,416.3 87.53,416.28" fill="#2a2a2a"/>
<line x1="94.7" y1="428.5" x2="111.7" y2="428.5" stroke="#333" stroke-width="1"/>
<line x1="94.5" y1="426.7" x2="94.5" y2="430.9" stroke="#333" stroke-width="1"/>
<line x1="111.5" y1="426.7" x2="111.5" y2="430.9" stroke="#333" stroke-width="1"/>
<polygon points="103.2,423.5 103.67,424.28 104.59,424.3 104.15,425.1 104.59,425.9 103.67,425.92 103.2,426.7 102.73,425.92 101.81,425.9 102.25,425.1 101.81,424.3 102.73,424.28" fill="#2a2a2a"/>
<line x1="134.8" y1="411.5" x2="168.6" y2="411.5" stroke="#333" stroke-width="1"/>
<line x1="134.5" y1="409.4" x2="134.5" y2="413.6" stroke="#333" stroke-width="1"/>
<line x1="168.5" y1="409.4" x2="168.5" y2="413.6" stroke="#333" stroke-width="1"/>
<polygon points="149.9,406.2 150.37,406.98 151.29,407 150.85,407.8 151.29,408.6 150.37,408.62 149.9,409.4 149.42,408.62 148.51,408.6 148.95,407.8 148.51,407 149.42,406.98" fill="#2a2a2a"/>
<polygon points="153.5,406.2 153.97,406.98 154.89,407 154.45,407.8 154.89,408.6 153.97,408.62 153.5,409.4 153.02,408.62 152.11,408.6 152.55,407.8 152.11,407 153.02,406.98" fill="#2a2a2a"/>
<line x1="134.8" y1="420.5" x2="151.5" y2="420.5" stroke="#333" stroke-width="1"/>
<line x1="134.5" y1="418.7" x2="134.5" y2="422.9" stroke="#333" stroke-width="1"/>
<line x1="151.5" y1="418.7" x2="151.5" y2="422.9" stroke="#333" stroke-width="1"/>
<text stroke="#222" stroke-width="0.12" x="143.15" y="418.6" font-size="7" text-anchor="middle" fill="#222" font-weight="normal" font-family="Liberation Sans" class="t2">ns</text>
<line x1="151.5" y1="428.5" x2="168.6" y2="428.5" stroke="#333" stroke-width="1"/>
<line x1="151.5" y1="426.7" x2="151.5" y2="430.9" stroke="#333" stroke-width="1"/>
<line x1="168.5" y1="426.7" x2="168.5" y2="430.9" stroke="#333" stroke-width="1"/>
<polygon points="158.25,423.5 158.72,424.28 159.64,424.3 159.2,425.1 159.64,425.9 158.72,425.92 158.25,426.7 157.78,425.92 156.86,425.9 157.3,425.1 156.86,424.3 157.78,424.28" fill="#2a2a2a"/>
<polygon points="161.85,423.5 162.32,424.28 163.24,424.3 162.8,425.1 163.24,425.9 162.32,425.92 161.85,426.7 161.38,425.92 160.46,425.9 160.9,425.1 160.46,424.3 161.38,424.28" fill="#2a2a2a"/>
<line x1="191.5" y1="411.5" x2="225.6" y2="411.5" stroke="#333" stroke-width="1"/>
<line x1="191.5" y1="409.4" x2="191.5" y2="413.6" stroke="#333" stroke-width="1"/>
<line x1="225.5" y1="409.4" x2="225.5" y2="413.6" stroke="#333" stroke-width="1"/>
<polygon points="206.75,406.2 207.22,406.98 208.14,407 207.7,407.8 208.14,408.6 207.22,408.62 206.75,409.4 206.28,408.62 205.36,408.6 205.8,407.8 205.36,407 206.28,406.98" fill="#2a2a2a"/>
<polygon points="210.35,406.2 210.82,406.98 211.74,407 211.3,407.8 211.74,408.6 210.82,408.62 210.35,409.4 209.88,408.62 208.96,408.6 209.4,407.8 208.96,407 209.88,406.98" fill="#2a2a2a"/>
<line x1="191.5" y1="420.5" x2="208.3" y2="420.5" stroke="#333" stroke-width="1"/>
<line x1="191.5" y1="418.4" x2="191.5" y2="422.6" stroke="#333" stroke-width="1"/>
<line x1="208.5" y1="418.4" x2="208.5" y2="422.6" stroke="#333" stroke-width="1"/>
<polygon points="198.1,415.2 198.57,415.98 199.49,416 199.05,416.8 199.49,417.6 198.57,417.62 198.1,418.4 197.62,417.62 196.71,417.6 197.15,416.8 196.71,416 197.62,415.98" fill="#2a2a2a"/>
<polygon points="201.7,415.2 202.17,415.98 203.09,416 202.65,416.8 203.09,417.6 202.17,417.62 201.7,418.4 201.22,417.62 200.31,417.6 200.75,416.8 200.31,416 201.22,415.98" fill="#2a2a2a"/>
<line x1="208.3" y1="428.5" x2="225.6" y2="428.5" stroke="#333" stroke-width="1"/>
<line x1="208.5" y1="426.2" x2="208.5" y2="430.4" stroke="#333" stroke-width="1"/>
<line x1="225.5" y1="426.2" x2="225.5" y2="430.4" stroke="#333" stroke-width="1"/>
<text stroke="#222" stroke-width="0.12" x="216.95" y="426.1" font-size="7" text-anchor="middle" fill="#222" font-weight="normal" font-family="Liberation Sans" class="t2">ns</text>
<text stroke="#111" stroke-width="0.12" class="t2" x="0" y="0" font-size="8" text-anchor="end" fill="#111" font-family="Liberation Sans" textLength="27.09" lengthAdjust="spacing" transform="translate(82.5 539.6) rotate(-45)">Vehicle</text>
<text stroke="#111" stroke-width="0.12" class="t2" x="0" y="0" font-size="8" text-anchor="end" fill="#111" font-family="Liberation Sans" textLength="46.23" lengthAdjust="spacing" transform="translate(101.32 539.6) rotate(-45)">Vecabrutinib</text>
<text stroke="#111" stroke-width="0.12" class="t2" x="0" y="0" font-size="8" text-anchor="end" fill="#111" font-family="Liberation Sans" textLength="29.88" lengthAdjust="spacing" transform="translate(120.14 539.6) rotate(-45)">Ibrutinib</text>
<text stroke="#111" stroke-width="0.12" class="t2" x="0" y="0" font-size="8" text-anchor="end" fill="#111" font-family="Liberation Sans" textLength="27.09" lengthAdjust="spacing" transform="translate(138.96 539.6) rotate(-45)">Vehicle</text>
<text stroke="#111" stroke-width="0.12" class="t2" x="0" y="0" font-size="8" text-anchor="end" fill="#111" font-family="Liberation Sans" textLength="46.23" lengthAdjust="spacing" transform="translate(157.78 539.6) rotate(-45)">Vecabrutinib</text>
<text stroke="#111" stroke-width="0.12" class="t2" x="0" y="0" font-size="8" text-anchor="end" fill="#111" font-family="Liberation Sans" textLength="29.88" lengthAdjust="spacing" transform="translate(176.6 539.6) rotate(-45)">Ibrutinib</text>
<text stroke="#111" stroke-width="0.12" class="t2" x="0" y="0" font-size="8" text-anchor="end" fill="#111" font-family="Liberation Sans" textLength="27.09" lengthAdjust="spacing" transform="translate(195.42 539.6) rotate(-45)">Vehicle</text>
<text stroke="#111" stroke-width="0.12" class="t2" x="0" y="0" font-size="8" text-anchor="end" fill="#111" font-family="Liberation Sans" textLength="46.23" lengthAdjust="spacing" transform="translate(214.24 539.6) rotate(-45)">Vecabrutinib</text>
<text stroke="#111" stroke-width="0.12" class="t2" x="0" y="0" font-size="8" text-anchor="end" fill="#111" font-family="Liberation Sans" textLength="29.88" lengthAdjust="spacing" transform="translate(233.06 539.6) rotate(-45)">Ibrutinib</text>
<line x1="76.3" y1="575.5" x2="116.3" y2="575.5" stroke="#333" stroke-width="1"/>
<line x1="76.5" y1="573.2" x2="76.5" y2="576.8" stroke="#333" stroke-width="1"/>
<line x1="116.5" y1="573.2" x2="116.5" y2="576.8" stroke="#333" stroke-width="1"/>
<text stroke="#1a1a1a" stroke-width="0.12" x="96.3" y="585.3" font-size="7.7" text-anchor="middle" fill="#1a1a1a" font-weight="normal" font-family="Liberation Sans" textLength="19.4" lengthAdjust="spacingAndGlyphs" class="t2">Blood</text>
<line x1="133" y1="575.5" x2="172.5" y2="575.5" stroke="#333" stroke-width="1"/>
<line x1="133.5" y1="573.4" x2="133.5" y2="577" stroke="#333" stroke-width="1"/>
<line x1="172.5" y1="573.4" x2="172.5" y2="577" stroke="#333" stroke-width="1"/>
<text stroke="#1a1a1a" stroke-width="0.12" x="152.75" y="585.3" font-size="7.7" text-anchor="middle" fill="#1a1a1a" font-weight="normal" font-family="Liberation Sans" textLength="22.7" lengthAdjust="spacingAndGlyphs" class="t2">Spleen</text>
<line x1="189.5" y1="575.5" x2="228.8" y2="575.5" stroke="#333" stroke-width="1"/>
<line x1="189.5" y1="573.6" x2="189.5" y2="577.2" stroke="#333" stroke-width="1"/>
<line x1="228.5" y1="573.6" x2="228.5" y2="577.2" stroke="#333" stroke-width="1"/>
<text stroke="#1a1a1a" stroke-width="0.12" x="209.15" y="584.8" font-size="7.7" text-anchor="middle" fill="#1a1a1a" font-weight="normal" font-family="Liberation Sans" textLength="10.7" lengthAdjust="spacingAndGlyphs" class="t2">BM</text>
<rect x="60.5" y="223.5" width="118" height="120" fill="none" stroke="#111" stroke-width="1.05"/>
<line x1="57.4" y1="343.5" x2="60.8" y2="343.5" stroke="#222" stroke-width="1"/>
<text stroke="#111" stroke-width="0.22" x="55.2" y="346.3" font-size="9.4" text-anchor="end" fill="#111" font-weight="normal" font-family="Liberation Sans" textLength="4.3" lengthAdjust="spacingAndGlyphs" >0</text>
<line x1="58.6" y1="336.5" x2="60.8" y2="336.5" stroke="#222" stroke-width="1"/>
<line x1="58.6" y1="330.5" x2="60.8" y2="330.5" stroke="#222" stroke-width="1"/>
<line x1="58.6" y1="323.5" x2="60.8" y2="323.5" stroke="#222" stroke-width="1"/>
<line x1="58.6" y1="317.5" x2="60.8" y2="317.5" stroke="#222" stroke-width="1"/>
<line x1="57.4" y1="310.5" x2="60.8" y2="310.5" stroke="#222" stroke-width="1"/>
<text stroke="#111" stroke-width="0.22" x="55.2" y="313.2" font-size="9.4" text-anchor="end" fill="#111" font-weight="normal" font-family="Liberation Sans" textLength="12.9" lengthAdjust="spacingAndGlyphs" >200</text>
<line x1="58.6" y1="303.5" x2="60.8" y2="303.5" stroke="#222" stroke-width="1"/>
<line x1="58.6" y1="297.5" x2="60.8" y2="297.5" stroke="#222" stroke-width="1"/>
<line x1="58.6" y1="290.5" x2="60.8" y2="290.5" stroke="#222" stroke-width="1"/>
<line x1="58.6" y1="283.5" x2="60.8" y2="283.5" stroke="#222" stroke-width="1"/>
<line x1="57.4" y1="277.5" x2="60.8" y2="277.5" stroke="#222" stroke-width="1"/>
<text stroke="#111" stroke-width="0.22" x="55.2" y="280.1" font-size="9.4" text-anchor="end" fill="#111" font-weight="normal" font-family="Liberation Sans" textLength="12.9" lengthAdjust="spacingAndGlyphs" >400</text>
<line x1="58.6" y1="270.5" x2="60.8" y2="270.5" stroke="#222" stroke-width="1"/>
<line x1="58.6" y1="264.5" x2="60.8" y2="264.5" stroke="#222" stroke-width="1"/>
<line x1="58.6" y1="257.5" x2="60.8" y2="257.5" stroke="#222" stroke-width="1"/>
<line x1="58.6" y1="250.5" x2="60.8" y2="250.5" stroke="#222" stroke-width="1"/>
<line x1="57.4" y1="244.5" x2="60.8" y2="244.5" stroke="#222" stroke-width="1"/>
<text stroke="#111" stroke-width="0.22" x="55.2" y="247" font-size="9.4" text-anchor="end" fill="#111" font-weight="normal" font-family="Liberation Sans" textLength="12.9" lengthAdjust="spacingAndGlyphs" >600</text>
<line x1="58.6" y1="237.5" x2="60.8" y2="237.5" stroke="#222" stroke-width="1"/>
<line x1="58.6" y1="230.5" x2="60.8" y2="230.5" stroke="#222" stroke-width="1"/>
<line x1="58.6" y1="224.5" x2="60.8" y2="224.5" stroke="#222" stroke-width="1"/>
<text stroke="#222" stroke-width="0.22" x="71" y="355.6" font-size="7.2" fill="#222" font-family="Liberation Sans">&#8722;10<tspan font-size="5" dy="-3.4">4</tspan></text>
<text stroke="#222" stroke-width="0.22" x="88.8" y="355.6" font-size="7.2" fill="#222" font-family="Liberation Sans">&#8722;10<tspan font-size="5" dy="-3.4">3</tspan></text>
<text stroke="#222" stroke-width="0.22" x="105.9" y="355.6" font-size="7.2" fill="#222" font-family="Liberation Sans">0<tspan font-size="5" dy="-3.4"></tspan></text>
<text stroke="#222" stroke-width="0.22" x="112.1" y="355.6" font-size="7.2" fill="#222" font-family="Liberation Sans">10<tspan font-size="5" dy="-3.4">3</tspan></text>
<text stroke="#222" stroke-width="0.22" x="132.3" y="355.6" font-size="7.2" fill="#222" font-family="Liberation Sans">10<tspan font-size="5" dy="-3.4">4</tspan></text>
<text stroke="#222" stroke-width="0.22" x="152.3" y="355.6" font-size="7.2" fill="#222" font-family="Liberation Sans">10<tspan font-size="5" dy="-3.4">5</tspan></text>
<text stroke="#222" stroke-width="0.22" x="173.1" y="355.6" font-size="7.2" fill="#222" font-family="Liberation Sans">10<tspan font-size="5" dy="-3.4">6</tspan></text>
<rect x="96.6" y="343.5" width="21.3" height="1.9" fill="#333"/>
<line x1="78.9" y1="343.5" x2="78.9" y2="346.5" stroke="#1a1a1a" stroke-width="0.9"/>
<line x1="96.6" y1="343.5" x2="96.6" y2="346.5" stroke="#1a1a1a" stroke-width="0.9"/>
<line x1="107.7" y1="343.5" x2="107.7" y2="346.5" stroke="#1a1a1a" stroke-width="0.9"/>
<line x1="117.9" y1="343.5" x2="117.9" y2="346.5" stroke="#1a1a1a" stroke-width="0.9"/>
<line x1="138" y1="343.5" x2="138" y2="346.5" stroke="#1a1a1a" stroke-width="0.9"/>
<line x1="158.3" y1="343.5" x2="158.3" y2="346.5" stroke="#1a1a1a" stroke-width="0.9"/>
<line x1="178.6" y1="343.5" x2="178.6" y2="346.5" stroke="#1a1a1a" stroke-width="0.9"/>
<line x1="123.95" y1="343.5" x2="123.95" y2="345.5" stroke="#1a1a1a" stroke-width="0.9"/>
<line x1="127.49" y1="343.5" x2="127.49" y2="345.5" stroke="#1a1a1a" stroke-width="0.9"/>
<line x1="130" y1="343.5" x2="130" y2="345.5" stroke="#1a1a1a" stroke-width="0.9"/>
<line x1="131.95" y1="343.5" x2="131.95" y2="345.5" stroke="#1a1a1a" stroke-width="0.9"/>
<line x1="133.54" y1="343.5" x2="133.54" y2="345.5" stroke="#1a1a1a" stroke-width="0.9"/>
<line x1="134.89" y1="343.5" x2="134.89" y2="345.5" stroke="#1a1a1a" stroke-width="0.9"/>
<line x1="136.05" y1="343.5" x2="136.05" y2="345.5" stroke="#1a1a1a" stroke-width="0.9"/>
<line x1="137.08" y1="343.5" x2="137.08" y2="345.5" stroke="#1a1a1a" stroke-width="0.9"/>
<line x1="144.11" y1="343.5" x2="144.11" y2="345.5" stroke="#1a1a1a" stroke-width="0.9"/>
<line x1="147.69" y1="343.5" x2="147.69" y2="345.5" stroke="#1a1a1a" stroke-width="0.9"/>
<line x1="150.22" y1="343.5" x2="150.22" y2="345.5" stroke="#1a1a1a" stroke-width="0.9"/>
<line x1="152.19" y1="343.5" x2="152.19" y2="345.5" stroke="#1a1a1a" stroke-width="0.9"/>
<line x1="153.8" y1="343.5" x2="153.8" y2="345.5" stroke="#1a1a1a" stroke-width="0.9"/>
<line x1="155.16" y1="343.5" x2="155.16" y2="345.5" stroke="#1a1a1a" stroke-width="0.9"/>
<line x1="156.33" y1="343.5" x2="156.33" y2="345.5" stroke="#1a1a1a" stroke-width="0.9"/>
<line x1="157.37" y1="343.5" x2="157.37" y2="345.5" stroke="#1a1a1a" stroke-width="0.9"/>
<line x1="164.41" y1="343.5" x2="164.41" y2="345.5" stroke="#1a1a1a" stroke-width="0.9"/>
<line x1="167.99" y1="343.5" x2="167.99" y2="345.5" stroke="#1a1a1a" stroke-width="0.9"/>
<line x1="170.52" y1="343.5" x2="170.52" y2="345.5" stroke="#1a1a1a" stroke-width="0.9"/>
<line x1="172.49" y1="343.5" x2="172.49" y2="345.5" stroke="#1a1a1a" stroke-width="0.9"/>
<line x1="174.1" y1="343.5" x2="174.1" y2="345.5" stroke="#1a1a1a" stroke-width="0.9"/>
<line x1="175.46" y1="343.5" x2="175.46" y2="345.5" stroke="#1a1a1a" stroke-width="0.9"/>
<line x1="176.63" y1="343.5" x2="176.63" y2="345.5" stroke="#1a1a1a" stroke-width="0.9"/>
<line x1="177.67" y1="343.5" x2="177.67" y2="345.5" stroke="#1a1a1a" stroke-width="0.9"/>
<line x1="108.72" y1="343.5" x2="108.72" y2="345.5" stroke="#1a1a1a" stroke-width="0.9"/>
<line x1="106.59" y1="343.5" x2="106.59" y2="345.5" stroke="#1a1a1a" stroke-width="0.9"/>
<line x1="109.74" y1="343.5" x2="109.74" y2="345.5" stroke="#1a1a1a" stroke-width="0.9"/>
<line x1="105.48" y1="343.5" x2="105.48" y2="345.5" stroke="#1a1a1a" stroke-width="0.9"/>
<line x1="110.76" y1="343.5" x2="110.76" y2="345.5" stroke="#1a1a1a" stroke-width="0.9"/>
<line x1="104.37" y1="343.5" x2="104.37" y2="345.5" stroke="#1a1a1a" stroke-width="0.9"/>
<line x1="111.78" y1="343.5" x2="111.78" y2="345.5" stroke="#1a1a1a" stroke-width="0.9"/>
<line x1="103.26" y1="343.5" x2="103.26" y2="345.5" stroke="#1a1a1a" stroke-width="0.9"/>
<line x1="112.8" y1="343.5" x2="112.8" y2="345.5" stroke="#1a1a1a" stroke-width="0.9"/>
<line x1="102.15" y1="343.5" x2="102.15" y2="345.5" stroke="#1a1a1a" stroke-width="0.9"/>
<line x1="113.82" y1="343.5" x2="113.82" y2="345.5" stroke="#1a1a1a" stroke-width="0.9"/>
<line x1="101.04" y1="343.5" x2="101.04" y2="345.5" stroke="#1a1a1a" stroke-width="0.9"/>
<line x1="114.84" y1="343.5" x2="114.84" y2="345.5" stroke="#1a1a1a" stroke-width="0.9"/>
<line x1="99.93" y1="343.5" x2="99.93" y2="345.5" stroke="#1a1a1a" stroke-width="0.9"/>
<line x1="115.86" y1="343.5" x2="115.86" y2="345.5" stroke="#1a1a1a" stroke-width="0.9"/>
<line x1="98.82" y1="343.5" x2="98.82" y2="345.5" stroke="#1a1a1a" stroke-width="0.9"/>
<line x1="116.88" y1="343.5" x2="116.88" y2="345.5" stroke="#1a1a1a" stroke-width="0.9"/>
<line x1="97.71" y1="343.5" x2="97.71" y2="345.5" stroke="#1a1a1a" stroke-width="0.9"/>
<line x1="91.27" y1="343.5" x2="91.27" y2="345.5" stroke="#1a1a1a" stroke-width="0.9"/>
<line x1="88.15" y1="343.5" x2="88.15" y2="345.5" stroke="#1a1a1a" stroke-width="0.9"/>
<line x1="85.94" y1="343.5" x2="85.94" y2="345.5" stroke="#1a1a1a" stroke-width="0.9"/>
<line x1="84.23" y1="343.5" x2="84.23" y2="345.5" stroke="#1a1a1a" stroke-width="0.9"/>
<line x1="82.83" y1="343.5" x2="82.83" y2="345.5" stroke="#1a1a1a" stroke-width="0.9"/>
<line x1="81.64" y1="343.5" x2="81.64" y2="345.5" stroke="#1a1a1a" stroke-width="0.9"/>
<line x1="80.62" y1="343.5" x2="80.62" y2="345.5" stroke="#1a1a1a" stroke-width="0.9"/>
<line x1="79.71" y1="343.5" x2="79.71" y2="345.5" stroke="#1a1a1a" stroke-width="0.9"/>
<line x1="73.57" y1="343.5" x2="73.57" y2="345.5" stroke="#1a1a1a" stroke-width="0.9"/>
<line x1="70.45" y1="343.5" x2="70.45" y2="345.5" stroke="#1a1a1a" stroke-width="0.9"/>
<line x1="68.24" y1="343.5" x2="68.24" y2="345.5" stroke="#1a1a1a" stroke-width="0.9"/>
<line x1="66.53" y1="343.5" x2="66.53" y2="345.5" stroke="#1a1a1a" stroke-width="0.9"/>
<line x1="65.13" y1="343.5" x2="65.13" y2="345.5" stroke="#1a1a1a" stroke-width="0.9"/>
<line x1="63.94" y1="343.5" x2="63.94" y2="345.5" stroke="#1a1a1a" stroke-width="0.9"/>
<line x1="62.92" y1="343.5" x2="62.92" y2="345.5" stroke="#1a1a1a" stroke-width="0.9"/>
<line x1="62.01" y1="343.5" x2="62.01" y2="345.5" stroke="#1a1a1a" stroke-width="0.9"/>
<text x="107.6" y="234.7" font-size="10" text-anchor="start" fill="#2f69a3" font-weight="normal" font-family="Liberation Sans" textLength="24.5" lengthAdjust="spacingAndGlyphs" class="t">Blood</text>
<text stroke="#111" stroke-width="0.22" x="0" y="0" font-size="10" text-anchor="middle" fill="#111" font-weight="normal" font-family="Liberation Sans" textLength="20" lengthAdjust="spacingAndGlyphs" transform="translate(35.8 284) rotate(-90)">Count</text>
<path d="M61 343.5 L61.93 342.25 L62.79 340.97 L63.71 339.15 L64.51 336.95 L65.34 334.44 L66.18 331.53 L66.99 328.27 L67.82 324.03 L68.63 318.37 L69.43 311.38 L70.24 303.96 L71.06 296.22 L71.87 287.73 L72.68 276.79 L73.5 263.43 L74.3 247.68 L75.11 245.23 L75.92 254.85 L76.74 264.5 L77.56 270.57 L78.37 275.79 L79.2 281.25 L80.01 287.73 L80.83 296.22 L81.65 304.7 L82.45 312.09 L83.28 319.27 L84.1 324.77 L84.95 328.36 L85.82 330.54 L86.68 332.08 L87.6 333.72 L88.45 335.07 L89.36 336.32 L90.31 337.43 L91.13 338.25 L92.1 339.06 L93.1 339.71 L93.95 340.15 L94.89 340.53 L95.7 340.77 L96.7 341.01 L97.56 341.25 L98.48 341.42 L99.45 341.8 L100.47 341.89 L101.51 342.34 L102.58 342.11 L103.39 342.32 L104.2 342.42 L105 342.36 L105.95 342.86 L106.92 342.43 L107.9 342.67 L108.91 342.64 L109.92 342.86 L110.94 342.41 L111.96 342.7 L112.98 342.41 L113.99 342.39 L115 342.21 L116 342.26 L117.01 341.87 L118.03 341.86 L119.04 341.75 L120.05 341.81 L121.06 340.86 L122.06 341.35 L123.05 341.01 L124.03 340.47 L125 340.37 L125.99 339.89 L127 340.04 L128.01 339.33 L129.02 338.83 L130.01 338.42 L130.97 338.03 L131.9 337.65 L132.79 337.08 L133.62 337.64 L134.52 336.09 L135.4 335.22 L136.41 336 L137.31 335.7 L138.18 335.62 L139.1 335.17 L140.07 334.91 L141.05 334.76 L142.06 334.65 L143.07 333.82 L144.07 333.62 L145.03 334.39 L145.94 333.95 L146.88 333.76 L147.76 335.53 L148.6 335.65 L149.41 335.89 L150.4 336.44 L151.39 337.42 L152.32 337.53 L153.24 337.9 L154.16 338.32 L155.04 339.07 L155.91 340.05 L156.78 340.31 L157.64 340.72 L158.5 341.61 L159.37 341.99 L160.18 342.5 L161.07 342.88 L162.17 343.03 L163.11 343.18 L164 343.28 L164.96 343.3 L165.99 343.43 L167.05 343.48 L167.86 343.46 L168.67 343.47 L169.47 343.48 L170.51 343.5 L171.33 343.5 L172.19 343.5 L173.08 343.5 L173.98 343.5 L174.86 343.5 L175.69 343.5 L176.71 343.5 L177.56 343.5 L178.2 343.5" fill="none" stroke="#c9082e" stroke-width="1.3" stroke-linejoin="round" opacity="1"/>
<path d="M62 343.5 L62.91 342.47 L63.87 341.35 L64.72 340.07 L65.56 338.23 L66.42 335.75 L67.28 332.79 L68.11 329.39 L68.93 325.09 L69.74 319.04 L70.54 310.93 L71.36 302.71 L72.18 294.72 L72.99 286.24 L73.79 275.86 L74.6 265 L75.41 255.86 L76.22 252.13 L77.02 258.31 L77.83 267.62 L78.65 278.24 L79.45 287.73 L80.25 296.22 L81.06 303.96 L81.87 311.21 L82.69 318.12 L83.51 324.14 L84.35 328.88 L85.15 332.24 L85.96 334.48 L86.82 336.09 L87.67 337.12 L88.6 337.9 L89.59 338.58 L90.4 339.15 L91.39 339.83 L92.39 340.43 L93.3 340.86 L94.36 341.24 L95.3 341.13 L96.1 341.7 L96.99 341.57 L97.94 341.75 L98.94 342.45 L99.98 342.34 L101.04 342.35 L101.84 342.44 L102.65 342.3 L103.71 342.41 L104.75 342.63 L105.74 342.36 L106.75 342.63 L107.77 342.37 L108.79 342.55 L109.82 342.35 L110.84 342.63 L111.85 342.46 L112.85 342.16 L113.82 341.86 L114.77 341.89 L115.8 341.86 L116.81 341.56 L117.78 341.61 L118.73 341.56 L119.68 341.18 L120.64 340.89 L121.63 340.87 L122.67 340.36 L123.5 340.36 L124.38 339.82 L125.32 339.97 L126.3 339.17 L127.3 338.6 L128.32 338.52 L129.34 337.93 L130.35 337.43 L131.33 337.27 L132.27 337.14 L133.17 335.83 L134 336.13 L135.02 335.6 L136.04 335.05 L136.99 334.82 L137.87 333.48 L138.7 333.68 L139.68 332.7 L140.63 332.29 L141.59 331.69 L142.42 331.3 L143.45 330.88 L144.39 331.01 L145.27 331.5 L146.28 330.68 L147.27 330.08 L148.21 329.59 L149.2 329.18 L150.02 330 L150.9 331.14 L151.79 330.32 L152.67 331.99 L153.57 332.98 L154.49 333.92 L155.41 335.46 L156.33 336.96 L157.3 338.34 L158.26 339.04 L159.2 339.96 L160.21 340.4 L161.1 341.05 L161.95 341.37 L162.87 341.79 L163.83 342.04 L164.8 342.52 L165.78 342.87 L166.75 342.94 L167.73 343.16 L168.71 343.31 L169.7 343.37 L170.7 343.46 L171.74 343.49 L172.78 343.5 L173.65 343.5 L174.55 343.5 L175.44 343.5 L176.3 343.5 L177.3 343.5 L178.2 343.5" fill="none" stroke="#0b6b51" stroke-width="1.3" stroke-linejoin="round" opacity="1"/>
<path d="M64.5 343.5 L65.37 342.42 L66.29 341.21 L67.2 339.5 L68.01 336.93 L68.85 333.16 L69.67 328.32 L70.48 322.2 L71.3 313.85 L72.1 305.2 L72.91 296.98 L73.74 288.66 L74.54 280.41 L75.35 272.16 L76.16 265.57 L76.99 263.91 L77.83 269.37 L78.63 274.77 L79.45 280.07 L80.26 285.42 L81.08 291.02 L81.91 296.73 L82.73 302.16 L83.55 306.9 L84.35 310.63 L85.19 314.17 L86 318.19 L86.82 323.72 L87.64 326.67 L88.51 328.85 L89.42 330.73 L90.51 332.26 L91.41 331.49 L92.24 331.73 L93.06 332.85 L93.99 334.3 L94.8 335.45 L95.71 336.17 L96.56 336.93 L97.44 337.45 L98.35 338.34 L99.3 338.49 L100.2 339.05 L101.14 339.49 L102.1 339.78 L103.06 339.99 L104 340.62 L104.94 340.76 L105.81 341.15 L106.73 341.11 L107.54 341.23 L108.5 341.33 L109.3 341.22 L110.2 340.72 L111.18 340.46 L112.2 340.32 L113.24 340.1 L114.28 339.69 L115.29 339.36 L116.25 338.82 L117.2 338.7 L118.17 338.4 L119.13 337.75 L120.05 337.15 L120.96 336.83 L121.83 336.64 L122.68 335.69 L123.5 335.48 L124.35 334.71 L125.18 334.26 L125.99 333.59 L126.94 332.8 L127.83 332.26 L128.65 331.09 L129.55 330.11 L130.43 328.18 L131.32 326.25 L132.23 324.67 L133.1 321.84 L133.97 320.89 L134.88 319.09 L135.7 316.94 L136.56 315.78 L137.43 313.72 L138.27 311.63 L139.33 311.65 L140.14 311.25 L141.11 311.32 L141.92 310.16 L142.79 306.8 L143.66 304.36 L144.52 302.68 L145.33 301.59 L146.15 299.59 L146.97 300.13 L147.81 298.06 L148.66 297.7 L149.6 296.16 L150.62 295.82 L151.45 295.95 L152.48 297.19 L153.4 297.86 L154.29 299.52 L155.11 298.67 L155.93 294.71 L156.75 301.13 L157.61 304.13 L158.51 307.03 L159.32 307.6 L160.17 309.68 L161 311.87 L161.85 314.82 L162.7 318.35 L163.55 321.06 L164.38 324.78 L165.2 328.6 L166.06 331.58 L166.9 333.31 L167.72 335.74 L168.54 337.16 L169.37 339.11 L170.2 340.68 L171.12 341.5 L172.14 342.38 L173.08 342.81 L174.05 343 L175.1 343.19 L175.97 343.3 L176.86 343.38 L177.87 343.47 L178.2 343.5" fill="none" stroke="#0e4f8d" stroke-width="1.3" stroke-linejoin="round" opacity="1"/>
<rect x="221.5" y="223.5" width="118" height="121" fill="none" stroke="#111" stroke-width="1.05"/>
<line x1="218.2" y1="344.5" x2="221.6" y2="344.5" stroke="#222" stroke-width="1"/>
<text stroke="#111" stroke-width="0.22" x="216" y="346.9" font-size="9.4" text-anchor="end" fill="#111" font-weight="normal" font-family="Liberation Sans" textLength="4.3" lengthAdjust="spacingAndGlyphs" >0</text>
<line x1="219.4" y1="336.5" x2="221.6" y2="336.5" stroke="#222" stroke-width="1"/>
<line x1="219.4" y1="328.5" x2="221.6" y2="328.5" stroke="#222" stroke-width="1"/>
<line x1="219.4" y1="320.5" x2="221.6" y2="320.5" stroke="#222" stroke-width="1"/>
<line x1="219.4" y1="312.5" x2="221.6" y2="312.5" stroke="#222" stroke-width="1"/>
<line x1="218.2" y1="304.5" x2="221.6" y2="304.5" stroke="#222" stroke-width="1"/>
<text stroke="#111" stroke-width="0.22" x="216" y="306.9" font-size="9.4" text-anchor="end" fill="#111" font-weight="normal" font-family="Liberation Sans" textLength="12.9" lengthAdjust="spacingAndGlyphs" >200</text>
<line x1="219.4" y1="296.5" x2="221.6" y2="296.5" stroke="#222" stroke-width="1"/>
<line x1="219.4" y1="288.5" x2="221.6" y2="288.5" stroke="#222" stroke-width="1"/>
<line x1="219.4" y1="280.5" x2="221.6" y2="280.5" stroke="#222" stroke-width="1"/>
<line x1="219.4" y1="272.5" x2="221.6" y2="272.5" stroke="#222" stroke-width="1"/>
<line x1="218.2" y1="264.5" x2="221.6" y2="264.5" stroke="#222" stroke-width="1"/>
<text stroke="#111" stroke-width="0.22" x="216" y="266.9" font-size="9.4" text-anchor="end" fill="#111" font-weight="normal" font-family="Liberation Sans" textLength="12.9" lengthAdjust="spacingAndGlyphs" >400</text>
<line x1="219.4" y1="256.5" x2="221.6" y2="256.5" stroke="#222" stroke-width="1"/>
<line x1="219.4" y1="248.5" x2="221.6" y2="248.5" stroke="#222" stroke-width="1"/>
<line x1="219.4" y1="240.5" x2="221.6" y2="240.5" stroke="#222" stroke-width="1"/>
<line x1="219.4" y1="232.5" x2="221.6" y2="232.5" stroke="#222" stroke-width="1"/>
<line x1="218.2" y1="224.5" x2="221.6" y2="224.5" stroke="#222" stroke-width="1"/>
<text stroke="#111" stroke-width="0.22" x="216" y="226.9" font-size="9.4" text-anchor="end" fill="#111" font-weight="normal" font-family="Liberation Sans" textLength="12.9" lengthAdjust="spacingAndGlyphs" >600</text>
<text stroke="#222" stroke-width="0.22" x="229.2" y="355.6" font-size="7.2" fill="#222" font-family="Liberation Sans">&#8722;10<tspan font-size="5" dy="-3.4">4</tspan></text>
<text stroke="#222" stroke-width="0.22" x="248.3" y="355.6" font-size="7.2" fill="#222" font-family="Liberation Sans">&#8722;10<tspan font-size="5" dy="-3.4">3</tspan></text>
<text stroke="#222" stroke-width="0.22" x="266.2" y="355.6" font-size="7.2" fill="#222" font-family="Liberation Sans">0<tspan font-size="5" dy="-3.4"></tspan></text>
<text stroke="#222" stroke-width="0.22" x="273.4" y="355.6" font-size="7.2" fill="#222" font-family="Liberation Sans">10<tspan font-size="5" dy="-3.4">3</tspan></text>
<text stroke="#222" stroke-width="0.22" x="294.5" y="355.6" font-size="7.2" fill="#222" font-family="Liberation Sans">10<tspan font-size="5" dy="-3.4">4</tspan></text>
<text stroke="#222" stroke-width="0.22" x="315" y="355.6" font-size="7.2" fill="#222" font-family="Liberation Sans">10<tspan font-size="5" dy="-3.4">5</tspan></text>
<text stroke="#222" stroke-width="0.22" x="334.2" y="355.6" font-size="7.2" fill="#222" font-family="Liberation Sans">10<tspan font-size="5" dy="-3.4">6</tspan></text>
<rect x="256.3" y="344.1" width="22.9" height="1.9" fill="#333"/>
<line x1="237" y1="344.1" x2="237" y2="347.1" stroke="#1a1a1a" stroke-width="0.9"/>
<line x1="256.3" y1="344.1" x2="256.3" y2="347.1" stroke="#1a1a1a" stroke-width="0.9"/>
<line x1="268.2" y1="344.1" x2="268.2" y2="347.1" stroke="#1a1a1a" stroke-width="0.9"/>
<line x1="279.2" y1="344.1" x2="279.2" y2="347.1" stroke="#1a1a1a" stroke-width="0.9"/>
<line x1="299.9" y1="344.1" x2="299.9" y2="347.1" stroke="#1a1a1a" stroke-width="0.9"/>
<line x1="320.3" y1="344.1" x2="320.3" y2="347.1" stroke="#1a1a1a" stroke-width="0.9"/>
<line x1="285.43" y1="344.1" x2="285.43" y2="346.1" stroke="#1a1a1a" stroke-width="0.9"/>
<line x1="289.08" y1="344.1" x2="289.08" y2="346.1" stroke="#1a1a1a" stroke-width="0.9"/>
<line x1="291.66" y1="344.1" x2="291.66" y2="346.1" stroke="#1a1a1a" stroke-width="0.9"/>
<line x1="293.67" y1="344.1" x2="293.67" y2="346.1" stroke="#1a1a1a" stroke-width="0.9"/>
<line x1="295.31" y1="344.1" x2="295.31" y2="346.1" stroke="#1a1a1a" stroke-width="0.9"/>
<line x1="296.69" y1="344.1" x2="296.69" y2="346.1" stroke="#1a1a1a" stroke-width="0.9"/>
<line x1="297.89" y1="344.1" x2="297.89" y2="346.1" stroke="#1a1a1a" stroke-width="0.9"/>
<line x1="298.95" y1="344.1" x2="298.95" y2="346.1" stroke="#1a1a1a" stroke-width="0.9"/>
<line x1="306.04" y1="344.1" x2="306.04" y2="346.1" stroke="#1a1a1a" stroke-width="0.9"/>
<line x1="309.63" y1="344.1" x2="309.63" y2="346.1" stroke="#1a1a1a" stroke-width="0.9"/>
<line x1="312.18" y1="344.1" x2="312.18" y2="346.1" stroke="#1a1a1a" stroke-width="0.9"/>
<line x1="314.16" y1="344.1" x2="314.16" y2="346.1" stroke="#1a1a1a" stroke-width="0.9"/>
<line x1="315.77" y1="344.1" x2="315.77" y2="346.1" stroke="#1a1a1a" stroke-width="0.9"/>
<line x1="317.14" y1="344.1" x2="317.14" y2="346.1" stroke="#1a1a1a" stroke-width="0.9"/>
<line x1="318.32" y1="344.1" x2="318.32" y2="346.1" stroke="#1a1a1a" stroke-width="0.9"/>
<line x1="319.37" y1="344.1" x2="319.37" y2="346.1" stroke="#1a1a1a" stroke-width="0.9"/>
<line x1="326.23" y1="344.1" x2="326.23" y2="346.1" stroke="#1a1a1a" stroke-width="0.9"/>
<line x1="329.7" y1="344.1" x2="329.7" y2="346.1" stroke="#1a1a1a" stroke-width="0.9"/>
<line x1="332.16" y1="344.1" x2="332.16" y2="346.1" stroke="#1a1a1a" stroke-width="0.9"/>
<line x1="334.07" y1="344.1" x2="334.07" y2="346.1" stroke="#1a1a1a" stroke-width="0.9"/>
<line x1="335.63" y1="344.1" x2="335.63" y2="346.1" stroke="#1a1a1a" stroke-width="0.9"/>
<line x1="336.95" y1="344.1" x2="336.95" y2="346.1" stroke="#1a1a1a" stroke-width="0.9"/>
<line x1="338.09" y1="344.1" x2="338.09" y2="346.1" stroke="#1a1a1a" stroke-width="0.9"/>
<line x1="339.1" y1="344.1" x2="339.1" y2="346.1" stroke="#1a1a1a" stroke-width="0.9"/>
<line x1="269.3" y1="344.1" x2="269.3" y2="346.1" stroke="#1a1a1a" stroke-width="0.9"/>
<line x1="267.01" y1="344.1" x2="267.01" y2="346.1" stroke="#1a1a1a" stroke-width="0.9"/>
<line x1="270.4" y1="344.1" x2="270.4" y2="346.1" stroke="#1a1a1a" stroke-width="0.9"/>
<line x1="265.82" y1="344.1" x2="265.82" y2="346.1" stroke="#1a1a1a" stroke-width="0.9"/>
<line x1="271.5" y1="344.1" x2="271.5" y2="346.1" stroke="#1a1a1a" stroke-width="0.9"/>
<line x1="264.63" y1="344.1" x2="264.63" y2="346.1" stroke="#1a1a1a" stroke-width="0.9"/>
<line x1="272.6" y1="344.1" x2="272.6" y2="346.1" stroke="#1a1a1a" stroke-width="0.9"/>
<line x1="263.44" y1="344.1" x2="263.44" y2="346.1" stroke="#1a1a1a" stroke-width="0.9"/>
<line x1="273.7" y1="344.1" x2="273.7" y2="346.1" stroke="#1a1a1a" stroke-width="0.9"/>
<line x1="262.25" y1="344.1" x2="262.25" y2="346.1" stroke="#1a1a1a" stroke-width="0.9"/>
<line x1="274.8" y1="344.1" x2="274.8" y2="346.1" stroke="#1a1a1a" stroke-width="0.9"/>
<line x1="261.06" y1="344.1" x2="261.06" y2="346.1" stroke="#1a1a1a" stroke-width="0.9"/>
<line x1="275.9" y1="344.1" x2="275.9" y2="346.1" stroke="#1a1a1a" stroke-width="0.9"/>
<line x1="259.87" y1="344.1" x2="259.87" y2="346.1" stroke="#1a1a1a" stroke-width="0.9"/>
<line x1="277" y1="344.1" x2="277" y2="346.1" stroke="#1a1a1a" stroke-width="0.9"/>
<line x1="258.68" y1="344.1" x2="258.68" y2="346.1" stroke="#1a1a1a" stroke-width="0.9"/>
<line x1="278.1" y1="344.1" x2="278.1" y2="346.1" stroke="#1a1a1a" stroke-width="0.9"/>
<line x1="257.49" y1="344.1" x2="257.49" y2="346.1" stroke="#1a1a1a" stroke-width="0.9"/>
<line x1="250.49" y1="344.1" x2="250.49" y2="346.1" stroke="#1a1a1a" stroke-width="0.9"/>
<line x1="247.09" y1="344.1" x2="247.09" y2="346.1" stroke="#1a1a1a" stroke-width="0.9"/>
<line x1="244.68" y1="344.1" x2="244.68" y2="346.1" stroke="#1a1a1a" stroke-width="0.9"/>
<line x1="242.81" y1="344.1" x2="242.81" y2="346.1" stroke="#1a1a1a" stroke-width="0.9"/>
<line x1="241.28" y1="344.1" x2="241.28" y2="346.1" stroke="#1a1a1a" stroke-width="0.9"/>
<line x1="239.99" y1="344.1" x2="239.99" y2="346.1" stroke="#1a1a1a" stroke-width="0.9"/>
<line x1="238.87" y1="344.1" x2="238.87" y2="346.1" stroke="#1a1a1a" stroke-width="0.9"/>
<line x1="237.88" y1="344.1" x2="237.88" y2="346.1" stroke="#1a1a1a" stroke-width="0.9"/>
<line x1="231.19" y1="344.1" x2="231.19" y2="346.1" stroke="#1a1a1a" stroke-width="0.9"/>
<line x1="227.79" y1="344.1" x2="227.79" y2="346.1" stroke="#1a1a1a" stroke-width="0.9"/>
<line x1="225.38" y1="344.1" x2="225.38" y2="346.1" stroke="#1a1a1a" stroke-width="0.9"/>
<line x1="223.51" y1="344.1" x2="223.51" y2="346.1" stroke="#1a1a1a" stroke-width="0.9"/>
<text x="265.8" y="235" font-size="10" text-anchor="start" fill="#2f69a3" font-weight="normal" font-family="Liberation Sans" textLength="29.1" lengthAdjust="spacingAndGlyphs" class="t">Spleen</text>
<text stroke="#111" stroke-width="0.22" x="0" y="0" font-size="10" text-anchor="middle" fill="#111" font-weight="normal" font-family="Liberation Sans" textLength="20" lengthAdjust="spacingAndGlyphs" transform="translate(196.6 284) rotate(-90)">Count</text>
<path d="M226.5 344.1 L227.26 343.48 L228.13 342.34 L228.84 339.98 L229.55 335.76 L230.26 330.38 L230.98 324.45 L231.7 317.82 L232.42 310.98 L233.13 304.1 L233.83 297.17 L234.55 289.43 L235.25 278.63 L235.95 268.48 L236.66 263.74 L237.39 267.86 L238.09 274.09 L238.8 280.29 L239.52 287.21 L240.22 294.3 L240.95 301.87 L241.65 308.76 L242.37 315.08 L243.07 320.56 L243.81 324.71 L244.57 327.6 L245.35 329.71 L246.09 331.53 L246.8 333.2 L247.57 334.92 L248.28 336.36 L249.01 337.69 L249.77 338.83 L250.47 340.14 L251.26 340.32 L252.08 341.27 L252.92 341.9 L253.79 341.34 L254.7 342.96 L255.63 342.69 L256.34 342.46 L257.06 342.92 L257.81 343.46 L258.58 343.58 L259.38 343.25 L260.21 343.52 L260.95 343.62 L261.65 343.83 L262.38 343.65 L263.13 343.89 L263.89 343.59 L264.67 343.65 L265.44 343.9 L266.22 343.92 L266.99 343.81 L267.75 343.91 L268.51 343.85 L269.28 343.93 L270.04 343.99 L270.8 343.87 L271.56 343.91 L272.32 343.67 L273.08 343.6 L273.85 343.19 L274.62 343.68 L275.4 343.53 L276.13 343.58 L276.87 342.92 L277.61 343.18 L278.36 343.07 L279.11 342.61 L279.86 343.29 L280.61 343.28 L281.36 342.33 L282.1 342.75 L282.85 343.06 L283.57 341.72 L284.27 342.39 L285.2 342.34 L286.13 342.15 L287.07 340.11 L288 339.82 L288.93 340.13 L289.87 340.35 L290.8 338.48 L291.52 338.54 L292.24 338.04 L292.97 339.3 L293.69 337.94 L294.41 338.51 L295.13 338.35 L295.85 338.53 L296.57 337.79 L297.3 337.55 L298.02 337.99 L298.75 337.29 L299.51 335.75 L300.27 336.11 L301.04 337.07 L301.81 336.27 L302.58 335.69 L303.34 336.02 L304.08 338.46 L304.81 335.54 L305.52 335.93 L306.47 335.89 L307.28 335.32 L308.07 336.65 L308.83 336.52 L309.57 336.32 L310.28 335.11 L311.2 337.54 L312.08 337.49 L313 337.27 L313.87 335.9 L314.69 338.39 L315.49 338.24 L316.28 339.49 L317.11 339.92 L317.95 340.37 L318.79 341.91 L319.63 342.08 L320.46 343.02 L321.29 342.75 L322.16 343.38 L322.87 343.96 L323.65 343.94 L324.44 343.93 L325.54 344.04 L326.36 344.1 L327.2 344.1 L327.93 344.1 L328.71 344.1 L329.55 344.1 L330.42 344.1 L331.32 344.1 L332.23 344.1 L333.13 344.1 L334.03 344.1 L334.89 344.1 L335.72 344.1 L336.49 344.1 L337.2 344.1 L338.02 344.1 L338.8 344.1" fill="none" stroke="#0b6b51" stroke-width="1.3" stroke-linejoin="round" opacity="1"/>
<path d="M226.2 344.1 L227.06 343.53 L227.83 342.84 L228.55 341.49 L229.26 338.16 L229.96 332.47 L230.69 325.87 L231.41 318.61 L232.13 310.98 L232.85 303.78 L233.56 296.67 L234.27 287.1 L234.98 268.66 L235.69 256.83 L236.41 247.47 L237.18 243.47 L237.95 244.51 L238.71 246.65 L239.45 249.8 L240.16 251.59 L240.86 261.89 L241.58 268.5 L242.28 270.08 L242.98 277.77 L243.69 291.18 L244.4 302.03 L245.14 311.27 L245.88 313.72 L246.6 313.8 L247.33 320.16 L248.09 319.94 L248.84 323.81 L249.62 324.16 L250.34 327.28 L251.11 327.48 L251.9 329.5 L252.66 333.65 L253.38 331.25 L254.17 333.43 L254.88 332.56 L255.63 334.55 L256.38 336.36 L257.2 336.77 L257.92 337.86 L258.7 338.32 L259.54 338.16 L260.46 339.65 L261.17 339.17 L261.89 341.03 L262.61 339.97 L263.55 340.95 L264.25 340.85 L265.15 341.61 L266.07 341.1 L266.84 341.93 L267.69 341.45 L268.41 342.05 L269.3 341.7 L270.01 341.4 L270.75 340.86 L271.51 341.47 L272.29 341.18 L273.07 341.6 L273.86 340.34 L274.64 340.59 L275.4 340.29 L276.28 339.79 L277.17 339.31 L278.08 338.8 L278.99 337.74 L279.9 336.87 L280.79 336.71 L281.66 336.88 L282.5 337.05 L283.31 336.06 L284.16 335.54 L284.97 334.72 L285.77 334.05 L286.53 332.96 L287.28 332.86 L288 333.17 L288.86 330.08 L289.61 328.69 L290.39 330.39 L291.12 327.16 L291.93 326.43 L292.74 324.7 L293.44 320.7 L294.16 324.11 L294.91 321.9 L295.68 318.25 L296.45 317.68 L297.18 315.4 L297.98 312.37 L298.82 312.04 L299.53 311.48 L300.28 311.34 L301.06 309.42 L301.9 307.44 L302.61 309.35 L303.49 305.57 L304.2 307.93 L304.91 308.16 L305.87 305.43 L306.66 302.75 L307.5 304.23 L308.25 306 L309.04 306.3 L309.8 308.29 L310.58 304.99 L311.31 308.3 L312.05 310.82 L312.85 311 L313.7 309.09 L314.45 315.32 L315.17 318.77 L315.95 318.13 L316.76 316.91 L317.47 319.16 L318.18 321.63 L318.92 326.25 L319.64 325.57 L320.43 326.9 L321.17 330.4 L321.91 330.84 L322.69 335.05 L323.43 334.8 L324.18 336.62 L324.96 338.98 L325.79 340.73 L326.51 341.29 L327.25 341.98 L328.15 342.05 L329.04 342.96 L329.96 343.3 L330.68 343.46 L331.46 343.79 L332.3 343.8 L333 343.89 L333.8 343.96 L334.66 344 L335.55 344.04 L336.41 344.06 L337.22 344.07 L337.93 344.08 L338.66 344.09 L338.8 344.1" fill="none" stroke="#0e4f8d" stroke-width="1.3" stroke-linejoin="round" opacity="1"/>
<path d="M225.8 344.1 L226.57 343.48 L227.44 342.34 L228.16 339.79 L228.86 334.98 L229.56 328.82 L230.28 321.98 L230.98 314.64 L231.69 307.21 L232.41 299.89 L233.13 292.11 L233.84 282.47 L234.55 271.55 L235.26 261.12 L235.97 250.74 L236.69 245.38 L237.43 247.57 L238.17 253.31 L238.89 259.11 L239.59 266.26 L240.31 275.83 L241.01 287.24 L241.73 297.85 L242.44 306.82 L243.16 312.47 L243.86 316.35 L244.57 319.55 L245.32 322.56 L246.07 325.21 L246.78 327.34 L247.55 329.33 L248.33 331.16 L249.13 332.89 L249.84 334.28 L250.62 335.19 L251.33 336.21 L252.16 337.4 L252.92 337.97 L253.72 339.44 L254.56 340.48 L255.45 339.44 L256.38 340.8 L257.1 340.27 L257.82 340.76 L258.71 341.35 L259.62 341.84 L260.33 341.82 L261.06 341.12 L261.8 342.95 L262.57 342.44 L263.36 342.43 L264.18 343 L265.01 342.6 L265.75 342.33 L266.46 342.98 L267.2 342.92 L267.97 342.42 L268.75 342.95 L269.55 342.68 L270.35 341.98 L271.15 343.02 L271.95 342.29 L272.73 341.54 L273.5 342.1 L274.24 341.82 L274.95 342.09 L275.68 340.8 L276.48 341.83 L277.26 341.63 L278.01 341.33 L278.74 341.11 L279.45 341.33 L280.38 340.72 L281.29 340.06 L282.19 339.09 L283.1 339.98 L284.02 339.47 L284.96 338.47 L285.89 337.8 L286.8 337.67 L287.68 334.37 L288.52 336.17 L289.3 333.09 L290 335.07 L290.76 335.32 L291.57 335.57 L292.43 332.52 L293.3 332.67 L294.04 331.45 L294.75 328.32 L295.48 330.83 L296.22 329.16 L296.95 328.49 L297.66 326.58 L298.5 327.06 L299.22 326.81 L299.93 328.04 L300.83 326.43 L301.7 330.23 L302.61 324.52 L303.46 324.07 L304.33 323.89 L305.03 322.75 L305.78 326.02 L306.56 325.06 L307.34 322.78 L308.07 324.98 L308.97 326.85 L309.77 324.07 L310.51 326.81 L311.34 327.3 L312.08 331.44 L312.82 330.25 L313.54 330.41 L314.36 331.54 L315.19 335.31 L315.93 334.1 L316.65 337.61 L317.41 335.38 L318.18 337.58 L318.9 338.46 L319.62 339.02 L320.44 340.19 L321.25 341.33 L321.99 341.16 L322.78 341.51 L323.52 343.12 L324.49 343.53 L325.44 343.17 L326.2 343.58 L326.98 343.07 L327.91 343.91 L328.68 343.54 L329.51 343.73 L330.38 344.1 L331.28 343.73 L332.19 343.93 L333.1 343.96 L333.99 343.98 L334.87 344 L335.7 344.02 L336.48 344.04 L337.19 344.05 L338.01 344.07 L338.8 344.1" fill="none" stroke="#c9082e" stroke-width="1.3" stroke-linejoin="round" opacity="1"/>
<rect x="381.5" y="223.5" width="112" height="120" fill="none" stroke="#111" stroke-width="1.05"/>
<line x1="378.2" y1="343.5" x2="381.6" y2="343.5" stroke="#222" stroke-width="1"/>
<text stroke="#111" stroke-width="0.22" x="376" y="346" font-size="9.4" text-anchor="end" fill="#111" font-weight="normal" font-family="Liberation Sans" textLength="4.3" lengthAdjust="spacingAndGlyphs" >0</text>
<line x1="379.4" y1="336.5" x2="381.6" y2="336.5" stroke="#222" stroke-width="1"/>
<line x1="379.4" y1="329.5" x2="381.6" y2="329.5" stroke="#222" stroke-width="1"/>
<line x1="379.4" y1="322.5" x2="381.6" y2="322.5" stroke="#222" stroke-width="1"/>
<line x1="379.4" y1="315.5" x2="381.6" y2="315.5" stroke="#222" stroke-width="1"/>
<line x1="378.2" y1="308.5" x2="381.6" y2="308.5" stroke="#222" stroke-width="1"/>
<text stroke="#111" stroke-width="0.22" x="376" y="311.6" font-size="9.4" text-anchor="end" fill="#111" font-weight="normal" font-family="Liberation Sans" textLength="8.6" lengthAdjust="spacingAndGlyphs" >50</text>
<line x1="379.4" y1="301.5" x2="381.6" y2="301.5" stroke="#222" stroke-width="1"/>
<line x1="379.4" y1="295.5" x2="381.6" y2="295.5" stroke="#222" stroke-width="1"/>
<line x1="379.4" y1="288.5" x2="381.6" y2="288.5" stroke="#222" stroke-width="1"/>
<line x1="379.4" y1="281.5" x2="381.6" y2="281.5" stroke="#222" stroke-width="1"/>
<line x1="378.2" y1="274.5" x2="381.6" y2="274.5" stroke="#222" stroke-width="1"/>
<text stroke="#111" stroke-width="0.22" x="376" y="277.2" font-size="9.4" text-anchor="end" fill="#111" font-weight="normal" font-family="Liberation Sans" textLength="12.9" lengthAdjust="spacingAndGlyphs" >100</text>
<line x1="379.4" y1="267.5" x2="381.6" y2="267.5" stroke="#222" stroke-width="1"/>
<line x1="379.4" y1="260.5" x2="381.6" y2="260.5" stroke="#222" stroke-width="1"/>
<line x1="379.4" y1="253.5" x2="381.6" y2="253.5" stroke="#222" stroke-width="1"/>
<line x1="379.4" y1="246.5" x2="381.6" y2="246.5" stroke="#222" stroke-width="1"/>
<line x1="378.2" y1="240.5" x2="381.6" y2="240.5" stroke="#222" stroke-width="1"/>
<text stroke="#111" stroke-width="0.22" x="376" y="242.8" font-size="9.4" text-anchor="end" fill="#111" font-weight="normal" font-family="Liberation Sans" textLength="12.9" lengthAdjust="spacingAndGlyphs" >150</text>
<line x1="379.4" y1="233.5" x2="381.6" y2="233.5" stroke="#222" stroke-width="1"/>
<line x1="379.4" y1="226.5" x2="381.6" y2="226.5" stroke="#222" stroke-width="1"/>
<text stroke="#222" stroke-width="0.22" x="390.2" y="355.6" font-size="7.2" fill="#222" font-family="Liberation Sans">&#8722;10<tspan font-size="5" dy="-3.4">4</tspan></text>
<text stroke="#222" stroke-width="0.22" x="408.3" y="355.6" font-size="7.2" fill="#222" font-family="Liberation Sans">&#8722;10<tspan font-size="5" dy="-3.4">3</tspan></text>
<text stroke="#222" stroke-width="0.22" x="425.2" y="355.6" font-size="7.2" fill="#222" font-family="Liberation Sans">0<tspan font-size="5" dy="-3.4"></tspan></text>
<text stroke="#222" stroke-width="0.22" x="431.4" y="355.6" font-size="7.2" fill="#222" font-family="Liberation Sans">10<tspan font-size="5" dy="-3.4">3</tspan></text>
<text stroke="#222" stroke-width="0.22" x="450" y="355.6" font-size="7.2" fill="#222" font-family="Liberation Sans">10<tspan font-size="5" dy="-3.4">4</tspan></text>
<text stroke="#222" stroke-width="0.22" x="469.2" y="355.6" font-size="7.2" fill="#222" font-family="Liberation Sans">10<tspan font-size="5" dy="-3.4">5</tspan></text>
<text stroke="#222" stroke-width="0.22" x="489.2" y="355.6" font-size="7.2" fill="#222" font-family="Liberation Sans">10<tspan font-size="5" dy="-3.4">6</tspan></text>
<rect x="416.3" y="343.2" width="21" height="1.9" fill="#333"/>
<line x1="398.5" y1="343.2" x2="398.5" y2="346.2" stroke="#1a1a1a" stroke-width="0.9"/>
<line x1="416.3" y1="343.2" x2="416.3" y2="346.2" stroke="#1a1a1a" stroke-width="0.9"/>
<line x1="427.1" y1="343.2" x2="427.1" y2="346.2" stroke="#1a1a1a" stroke-width="0.9"/>
<line x1="437.3" y1="343.2" x2="437.3" y2="346.2" stroke="#1a1a1a" stroke-width="0.9"/>
<line x1="455.8" y1="343.2" x2="455.8" y2="346.2" stroke="#1a1a1a" stroke-width="0.9"/>
<line x1="474.6" y1="343.2" x2="474.6" y2="346.2" stroke="#1a1a1a" stroke-width="0.9"/>
<line x1="493.6" y1="343.2" x2="493.6" y2="346.2" stroke="#1a1a1a" stroke-width="0.9"/>
<line x1="442.87" y1="343.2" x2="442.87" y2="345.2" stroke="#1a1a1a" stroke-width="0.9"/>
<line x1="446.13" y1="343.2" x2="446.13" y2="345.2" stroke="#1a1a1a" stroke-width="0.9"/>
<line x1="448.44" y1="343.2" x2="448.44" y2="345.2" stroke="#1a1a1a" stroke-width="0.9"/>
<line x1="450.23" y1="343.2" x2="450.23" y2="345.2" stroke="#1a1a1a" stroke-width="0.9"/>
<line x1="451.7" y1="343.2" x2="451.7" y2="345.2" stroke="#1a1a1a" stroke-width="0.9"/>
<line x1="452.93" y1="343.2" x2="452.93" y2="345.2" stroke="#1a1a1a" stroke-width="0.9"/>
<line x1="454.01" y1="343.2" x2="454.01" y2="345.2" stroke="#1a1a1a" stroke-width="0.9"/>
<line x1="454.95" y1="343.2" x2="454.95" y2="345.2" stroke="#1a1a1a" stroke-width="0.9"/>
<line x1="461.46" y1="343.2" x2="461.46" y2="345.2" stroke="#1a1a1a" stroke-width="0.9"/>
<line x1="464.77" y1="343.2" x2="464.77" y2="345.2" stroke="#1a1a1a" stroke-width="0.9"/>
<line x1="467.12" y1="343.2" x2="467.12" y2="345.2" stroke="#1a1a1a" stroke-width="0.9"/>
<line x1="468.94" y1="343.2" x2="468.94" y2="345.2" stroke="#1a1a1a" stroke-width="0.9"/>
<line x1="470.43" y1="343.2" x2="470.43" y2="345.2" stroke="#1a1a1a" stroke-width="0.9"/>
<line x1="471.69" y1="343.2" x2="471.69" y2="345.2" stroke="#1a1a1a" stroke-width="0.9"/>
<line x1="472.78" y1="343.2" x2="472.78" y2="345.2" stroke="#1a1a1a" stroke-width="0.9"/>
<line x1="473.74" y1="343.2" x2="473.74" y2="345.2" stroke="#1a1a1a" stroke-width="0.9"/>
<line x1="480.32" y1="343.2" x2="480.32" y2="345.2" stroke="#1a1a1a" stroke-width="0.9"/>
<line x1="483.67" y1="343.2" x2="483.67" y2="345.2" stroke="#1a1a1a" stroke-width="0.9"/>
<line x1="486.04" y1="343.2" x2="486.04" y2="345.2" stroke="#1a1a1a" stroke-width="0.9"/>
<line x1="487.88" y1="343.2" x2="487.88" y2="345.2" stroke="#1a1a1a" stroke-width="0.9"/>
<line x1="489.38" y1="343.2" x2="489.38" y2="345.2" stroke="#1a1a1a" stroke-width="0.9"/>
<line x1="490.66" y1="343.2" x2="490.66" y2="345.2" stroke="#1a1a1a" stroke-width="0.9"/>
<line x1="491.76" y1="343.2" x2="491.76" y2="345.2" stroke="#1a1a1a" stroke-width="0.9"/>
<line x1="492.73" y1="343.2" x2="492.73" y2="345.2" stroke="#1a1a1a" stroke-width="0.9"/>
<line x1="428.12" y1="343.2" x2="428.12" y2="345.2" stroke="#1a1a1a" stroke-width="0.9"/>
<line x1="426.02" y1="343.2" x2="426.02" y2="345.2" stroke="#1a1a1a" stroke-width="0.9"/>
<line x1="429.14" y1="343.2" x2="429.14" y2="345.2" stroke="#1a1a1a" stroke-width="0.9"/>
<line x1="424.94" y1="343.2" x2="424.94" y2="345.2" stroke="#1a1a1a" stroke-width="0.9"/>
<line x1="430.16" y1="343.2" x2="430.16" y2="345.2" stroke="#1a1a1a" stroke-width="0.9"/>
<line x1="423.86" y1="343.2" x2="423.86" y2="345.2" stroke="#1a1a1a" stroke-width="0.9"/>
<line x1="431.18" y1="343.2" x2="431.18" y2="345.2" stroke="#1a1a1a" stroke-width="0.9"/>
<line x1="422.78" y1="343.2" x2="422.78" y2="345.2" stroke="#1a1a1a" stroke-width="0.9"/>
<line x1="432.2" y1="343.2" x2="432.2" y2="345.2" stroke="#1a1a1a" stroke-width="0.9"/>
<line x1="421.7" y1="343.2" x2="421.7" y2="345.2" stroke="#1a1a1a" stroke-width="0.9"/>
<line x1="433.22" y1="343.2" x2="433.22" y2="345.2" stroke="#1a1a1a" stroke-width="0.9"/>
<line x1="420.62" y1="343.2" x2="420.62" y2="345.2" stroke="#1a1a1a" stroke-width="0.9"/>
<line x1="434.24" y1="343.2" x2="434.24" y2="345.2" stroke="#1a1a1a" stroke-width="0.9"/>
<line x1="419.54" y1="343.2" x2="419.54" y2="345.2" stroke="#1a1a1a" stroke-width="0.9"/>
<line x1="435.26" y1="343.2" x2="435.26" y2="345.2" stroke="#1a1a1a" stroke-width="0.9"/>
<line x1="418.46" y1="343.2" x2="418.46" y2="345.2" stroke="#1a1a1a" stroke-width="0.9"/>
<line x1="436.28" y1="343.2" x2="436.28" y2="345.2" stroke="#1a1a1a" stroke-width="0.9"/>
<line x1="417.38" y1="343.2" x2="417.38" y2="345.2" stroke="#1a1a1a" stroke-width="0.9"/>
<line x1="410.94" y1="343.2" x2="410.94" y2="345.2" stroke="#1a1a1a" stroke-width="0.9"/>
<line x1="407.81" y1="343.2" x2="407.81" y2="345.2" stroke="#1a1a1a" stroke-width="0.9"/>
<line x1="405.58" y1="343.2" x2="405.58" y2="345.2" stroke="#1a1a1a" stroke-width="0.9"/>
<line x1="403.86" y1="343.2" x2="403.86" y2="345.2" stroke="#1a1a1a" stroke-width="0.9"/>
<line x1="402.45" y1="343.2" x2="402.45" y2="345.2" stroke="#1a1a1a" stroke-width="0.9"/>
<line x1="401.26" y1="343.2" x2="401.26" y2="345.2" stroke="#1a1a1a" stroke-width="0.9"/>
<line x1="400.22" y1="343.2" x2="400.22" y2="345.2" stroke="#1a1a1a" stroke-width="0.9"/>
<line x1="399.31" y1="343.2" x2="399.31" y2="345.2" stroke="#1a1a1a" stroke-width="0.9"/>
<line x1="393.14" y1="343.2" x2="393.14" y2="345.2" stroke="#1a1a1a" stroke-width="0.9"/>
<line x1="390.01" y1="343.2" x2="390.01" y2="345.2" stroke="#1a1a1a" stroke-width="0.9"/>
<line x1="387.78" y1="343.2" x2="387.78" y2="345.2" stroke="#1a1a1a" stroke-width="0.9"/>
<line x1="386.06" y1="343.2" x2="386.06" y2="345.2" stroke="#1a1a1a" stroke-width="0.9"/>
<line x1="384.65" y1="343.2" x2="384.65" y2="345.2" stroke="#1a1a1a" stroke-width="0.9"/>
<line x1="383.46" y1="343.2" x2="383.46" y2="345.2" stroke="#1a1a1a" stroke-width="0.9"/>
<line x1="382.42" y1="343.2" x2="382.42" y2="345.2" stroke="#1a1a1a" stroke-width="0.9"/>
<text x="412.4" y="234.4" font-size="10" text-anchor="start" fill="#2f69a3" font-weight="normal" font-family="Liberation Sans" textLength="56.5" lengthAdjust="spacingAndGlyphs" class="t">Bone marrow</text>
<text stroke="#111" stroke-width="0.22" x="0" y="0" font-size="10" text-anchor="middle" fill="#111" font-weight="normal" font-family="Liberation Sans" textLength="20" lengthAdjust="spacingAndGlyphs" transform="translate(356.6 284) rotate(-90)">Count</text>
<path d="M386 343.2 L386.77 343.01 L387.55 342.09 L388.28 340.83 L389.06 339.5 L389.8 337.96 L390.51 334.79 L391.27 330.68 L391.99 327.19 L392.71 322.73 L393.42 317.16 L394.12 308.99 L394.84 300.87 L395.55 292.67 L396.27 284.22 L396.98 273.41 L397.7 266.83 L398.42 261.99 L399.15 266.65 L399.93 264.94 L400.64 264.96 L401.36 269.21 L402.08 280.25 L402.78 286.32 L403.48 291.04 L404.18 299.39 L404.93 305.94 L405.64 298.11 L406.35 305.45 L407.08 313.95 L407.86 315.99 L408.66 317.15 L409.42 310.58 L410.13 316.91 L410.86 320.5 L411.65 326.55 L412.37 326.59 L413.09 328.78 L413.85 331.2 L414.61 331.19 L415.34 333.8 L416.2 333.86 L416.97 338.37 L417.83 335.49 L418.55 336.49 L419.3 334.59 L420.03 335.23 L420.76 336.16 L421.54 338.05 L422.33 337.8 L423.1 336.97 L423.84 335.72 L424.68 339.19 L425.51 336.88 L426.31 338.47 L427.2 340.46 L428.02 339.04 L428.86 339.67 L429.57 339.89 L430.38 338.33 L431.2 338.53 L432.1 337.91 L432.85 336.97 L433.65 333.94 L434.47 336.07 L435.28 337.34 L436.08 335.15 L436.82 336.16 L437.7 336.61 L438.53 337.34 L439.23 332.45 L439.99 332.16 L440.72 331.92 L441.51 331.17 L442.38 326.73 L443.2 332.14 L444.04 326.53 L444.89 329.69 L445.69 326.53 L446.43 326.95 L447.15 328.39 L447.9 324.48 L448.67 320.81 L449.39 316.12 L450.14 315.64 L450.88 312.85 L451.65 321.09 L452.44 311.25 L453.2 307.86 L453.9 318.2 L454.7 315.91 L455.45 309.8 L456.16 311.52 L456.92 304.65 L457.69 303.2 L458.41 304.37 L459.17 301.33 L459.88 291.99 L460.61 295.95 L461.31 295.48 L462.01 296.19 L462.77 292.89 L463.53 295.5 L464.23 290.87 L464.99 288.42 L465.72 289.59 L466.46 282.7 L467.25 284.21 L468 284.45 L468.77 280.47 L469.48 289.13 L470.21 278.52 L470.96 289.34 L471.66 288.36 L472.37 295.04 L473.08 306.4 L473.83 295.62 L474.54 302.59 L475.27 308.49 L475.99 311.04 L476.72 319.37 L477.48 318.38 L478.18 326.82 L478.94 325.34 L479.7 327.64 L480.41 333.9 L481.12 336.92 L481.82 338.07 L482.7 339.82 L483.59 341.08 L484.48 341.58 L485.3 341.82 L486.18 341.9 L487.05 341.69 L487.9 343.19 L488.61 342.85 L489.45 342.78 L490.35 342.85 L491.24 343.01 L492.04 343.1 L492.86 343.14 L493 343.2" fill="none" stroke="#0e4f8d" stroke-width="1.3" stroke-linejoin="round" opacity="1"/>
<path d="M385.5 343.2 L386.27 342.84 L387.05 342.77 L387.78 341.2 L388.56 339.41 L389.3 337.27 L390.01 334.3 L390.77 331.06 L391.49 328.09 L392.21 322.43 L392.91 316.82 L393.62 308.77 L394.33 299.86 L395.03 292.54 L395.73 285.44 L396.44 276.33 L397.15 270.53 L397.86 261.68 L398.57 263.69 L399.3 266.82 L400.05 264.43 L400.77 268.02 L401.49 274.85 L402.21 281.59 L402.91 294.28 L403.62 299.29 L404.33 306.55 L405.05 310.79 L405.77 318.2 L406.49 323.29 L407.24 329.86 L407.98 336.29 L408.72 333.65 L409.52 338.18 L410.3 339.07 L411.03 338.12 L411.9 340.38 L412.75 341.09 L413.66 340.09 L414.39 340.18 L415.17 341.62 L416 341.25 L416.9 342.6 L417.62 341.56 L418.37 340.61 L419.14 341.37 L419.93 340.7 L420.74 341.94 L421.56 341.92 L422.4 341.25 L423.11 340.96 L423.85 342.06 L424.61 341.27 L425.38 342.25 L426.16 340.86 L426.95 341.27 L427.73 341.05 L428.5 340.68 L429.26 343.06 L430 342.32 L430.77 340.68 L431.54 341.56 L432.29 339.58 L433.03 341.68 L433.77 341.43 L434.51 340.18 L435.25 339.99 L435.99 340.29 L436.75 340.27 L437.47 339.35 L438.18 338.68 L438.88 338.99 L439.59 338.59 L440.29 339.54 L441.01 338.58 L441.73 338.46 L442.45 336.1 L443.19 337.15 L443.95 336.78 L444.83 336.17 L445.71 336.15 L446.62 335.38 L447.54 333.17 L448.47 335.93 L449.38 335.37 L450.27 332.75 L451.12 333.93 L451.92 331.09 L452.86 330.02 L453.66 331.25 L454.41 333.72 L455.12 330.62 L456.02 327.76 L456.87 330.45 L457.7 328.87 L458.45 328.59 L459.19 330.57 L460.11 327.38 L461.02 327.92 L461.74 329 L462.57 333.66 L463.35 332.7 L464.15 332.32 L464.97 332.96 L465.79 335.59 L466.6 337.04 L467.4 335.13 L468.2 337.07 L468.99 340.14 L469.79 338.78 L470.59 338.46 L471.4 339.71 L472.27 340.09 L473.17 341.1 L474.07 341.37 L474.97 341.32 L475.85 341.99 L476.75 342.58 L477.57 342.5 L478.31 342.96 L479.22 342.92 L480.17 343.2 L481 343.2 L481.78 343.2 L482.7 343.2 L483.48 343.2 L484.31 343.2 L485.18 343.2 L486.08 343.2 L486.98 343.2 L487.88 343.2 L488.76 343.2 L489.61 343.2 L490.41 343.2 L491.15 343.2 L492.02 343.2 L492.72 343.2 L493 343.2" fill="none" stroke="#0b6b51" stroke-width="1.3" stroke-linejoin="round" opacity="1"/>
<path d="M384.5 343.2 L385.34 342.39 L386.06 341.51 L386.83 339.75 L387.58 337.42 L388.28 335.06 L389.04 332.12 L389.78 328.89 L390.48 324.88 L391.19 319.43 L391.9 311.53 L392.62 304.31 L393.33 293.4 L394.15 284.59 L394.85 280.02 L395.57 268.58 L396.28 257.75 L396.99 246.23 L397.7 255.2 L398.41 260.41 L399.13 244.6 L399.83 246.4 L400.57 256.53 L401.29 249.12 L401.99 265.22 L402.7 291.28 L403.41 298.97 L404.13 303.92 L404.86 310.15 L405.57 317.12 L406.27 324.5 L407 330.02 L407.74 329.23 L408.44 333.88 L409.24 334.39 L409.95 336.28 L410.8 337.7 L411.58 338.32 L412.43 339.65 L413.36 340.39 L414.11 340.2 L414.89 339.77 L415.7 340.75 L416.59 340.98 L417.53 341.53 L418.26 341.31 L419.01 340.32 L419.77 341.01 L420.55 341.36 L421.34 342.21 L422.14 341.76 L422.88 342.38 L423.62 342.16 L424.38 341.56 L425.15 342.2 L425.92 342.48 L426.7 342.47 L427.48 341.74 L428.25 342.54 L429.01 342.15 L429.76 341.54 L430.52 342.13 L431.28 341.53 L432.04 341.76 L432.78 342.86 L433.52 343.2 L434.26 342.57 L435 342.17 L435.75 342.79 L436.5 341.8 L437.22 340.81 L438.12 339.46 L439.03 341.28 L439.95 338.48 L440.87 337.36 L441.78 338.63 L442.67 338.76 L443.56 337.34 L444.43 338.78 L445.31 337.06 L446.18 336.81 L447.02 336.51 L447.86 334.68 L448.7 335.12 L449.54 337.42 L450.39 332.64 L451.11 333.83 L451.89 334.03 L452.69 332.25 L453.5 332.7 L454.3 330.07 L455.08 331.75 L455.81 332.33 L456.7 333.85 L457.67 333.73 L458.37 331.97 L459.14 332.08 L459.88 336.71 L460.69 335.55 L461.45 331.15 L462.21 332.3 L463.03 330.49 L463.92 330.43 L464.69 328.94 L465.44 331.54 L466.25 332.35 L467.09 333.88 L467.96 336.67 L468.82 336.78 L469.67 336.22 L470.42 336.5 L471.27 338.47 L472.13 340.6 L472.98 340.98 L473.82 340.42 L474.64 342.04 L475.41 342.01 L476.3 342.01 L477.17 342.85 L477.94 342.94 L478.78 342.92 L479.54 343.12 L480.36 343.2 L481.19 343.2 L481.9 343.2 L482.68 343.2 L483.51 343.2 L484.37 343.2 L485.26 343.2 L486.17 343.2 L487.08 343.2 L487.97 343.2 L488.84 343.2 L489.68 343.2 L490.46 343.2 L491.19 343.2 L492.04 343.2 L492.87 343.2 L493 343.2" fill="none" stroke="#c9082e" stroke-width="1.3" stroke-linejoin="round" opacity="1"/>
<line x1="55.9" y1="369.5" x2="490.5" y2="369.5" stroke="#333" stroke-width="1.2"/>
<polygon points="489.6,367.0 494.2,369.4 489.6,371.8" fill="#111"/>
<text x="265.4" y="382.7" font-size="10.2" text-anchor="start" fill="#111" font-weight="bold" font-family="Liberation Sans" textLength="18.7" lengthAdjust="spacingAndGlyphs" >Ki67</text>
<rect x="306" y="209.1" width="6" height="6" fill="#0e4f8d"/>
<text stroke="#111" stroke-width="0.22" x="314.8" y="214.4" font-size="7.4" text-anchor="start" fill="#111" font-weight="normal" font-family="Liberation Sans" textLength="24.1" lengthAdjust="spacingAndGlyphs" >Vehicle</text>
<rect x="351.1" y="209.1" width="6" height="6" fill="#c9082e"/>
<text stroke="#111" stroke-width="0.22" x="360" y="214.4" font-size="7.4" text-anchor="start" fill="#111" font-weight="normal" font-family="Liberation Sans" textLength="42.3" lengthAdjust="spacingAndGlyphs" >Vecabrutinib</text>
<rect x="415.3" y="209.1" width="6.4" height="6" fill="#0b6b51"/>
<text stroke="#111" stroke-width="0.22" x="424.8" y="214.4" font-size="7.4" text-anchor="start" fill="#111" font-weight="normal" font-family="Liberation Sans" textLength="27.3" lengthAdjust="spacingAndGlyphs" >Ibrutinib</text>
<rect x="0.5" y="0.5" width="519" height="594" fill="none" stroke="#000" stroke-width="1.2"/>
</svg>
</body></html>
